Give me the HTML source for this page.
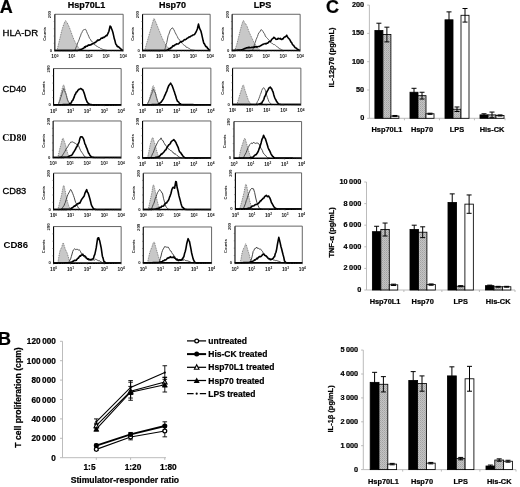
<!DOCTYPE html>
<html><head><meta charset="utf-8"><style>
html,body{margin:0;padding:0;background:#fff;}
svg{display:block;font-family:"Liberation Sans", sans-serif;filter:grayscale(1);}
</style></head><body>
<svg width="520" height="487" viewBox="0 0 520 487">
<defs>
<pattern id="stip" width="2" height="2" patternUnits="userSpaceOnUse">
<rect width="2" height="2" fill="#c4c4c4"/><rect width="1" height="1" fill="#a2a2a2"/><rect x="1" y="1" width="1" height="1" fill="#b0b0b0"/>
</pattern>
</defs>
<rect width="520" height="487" fill="#fff"/>
<text x="86.6" y="8" font-size="9" font-weight="bold" text-anchor="middle" fill="#000" stroke="#000" stroke-width="0.22">Hsp70L1</text>
<text x="172.5" y="8" font-size="9" font-weight="bold" text-anchor="middle" fill="#000" stroke="#000" stroke-width="0.22">Hsp70</text>
<text x="262.5" y="8" font-size="9" font-weight="bold" text-anchor="middle" fill="#000" stroke="#000" stroke-width="0.22">LPS</text>
<text x="-0.3" y="12.7" font-size="18" font-weight="bold" text-anchor="start" fill="#000" stroke="#000" stroke-width="0.22">A</text>
<text x="2.5" y="36.3" font-size="9.6" font-weight="normal" text-anchor="start" fill="#000" stroke="#000" stroke-width="0.3">HLA-DR</text>
<text x="2.5" y="92" font-size="9.3" font-weight="normal" text-anchor="start" fill="#000" stroke="#000" stroke-width="0.3">CD40</text>
<text x="2.2" y="141.3" font-size="9.9" font-family="Liberation Serif, serif" font-weight="bold">CD80</text>
<text x="2.5" y="193.5" font-size="9.3" font-weight="normal" text-anchor="start" fill="#000" stroke="#000" stroke-width="0.3">CD83</text>
<text x="3.5" y="247.8" font-size="9.6" font-weight="bold" text-anchor="start" fill="#000" stroke-width="0">CD86</text>
<path d="M56.98 50.56 C57.15 49.85 57.62 47.78 57.98 46.29 C58.33 44.79 58.74 43.13 59.12 41.59 C59.49 40.05 59.87 38.63 60.25 37.04 C60.63 35.45 60.97 33.72 61.39 32.06 C61.82 30.4 62.34 28.57 62.82 27.08 C63.29 25.58 63.79 24.16 64.24 23.09 C64.69 22.02 65.12 20.84 65.52 20.67 C65.92 20.51 66.25 21.5 66.66 22.1 C67.06 22.69 67.54 23.45 67.94 24.23 C68.34 25.01 68.7 25.89 69.08 26.79 C69.46 27.69 69.84 28.64 70.22 29.64 C70.59 30.63 70.95 31.65 71.35 32.77 C71.76 33.88 72.18 35.14 72.63 36.33 C73.09 37.51 73.51 38.7 74.06 39.88 C74.6 41.07 75.27 42.3 75.91 43.44 C76.55 44.58 77.19 45.77 77.9 46.72 C78.61 47.66 79.39 48.49 80.18 49.13 C80.96 49.78 82.19 50.32 82.6 50.56 Z" fill="#c8c8c8" stroke="#666" stroke-width="0.8" stroke-dasharray="1 0.8"/>
<path d="M74.77 50.56 L75.48 48.83 L76.19 46.94 L76.9 45.51 L77.62 43.01 L78.47 41.34 L79.32 39.04 L79.94 37.07 L80.56 35.86 L81.17 33.73 L81.79 32.94 L82.41 31.39 L83.02 30.23 L83.73 29.85 L84.45 29.54 L85.16 29.19 L85.87 29.65 L86.58 31.47 L87.29 33.22 L88 34.63 L88.72 36.22 L89.57 38.44 L90.42 39.15 L91.13 40.91 L91.85 41.29 L92.56 42.09 L93.27 42.78 L93.98 43.68 L94.69 44.9 L95.4 44.97 L96.12 45.86 L96.83 46.4 L97.54 46.62 L98.25 47.28 L98.96 47.3 L99.57 47.6 L100.18 48.01 L100.79 48.63 L101.4 48.73 L102.01 48.94 L102.62 49.33 L103.23 49.55 L103.84 49.65 L104.45 49.85 L105.06 49.99 L105.67 50.13 L106.28 50.27 L106.89 50.42 L107.5 50.56" fill="none" stroke="#5e5e5e" stroke-width="1"/>
<path d="M54.85 50.56 L55.46 50.56 L56.08 50.56 L56.69 50.56 L57.31 50.56 L57.92 50.56 L58.54 50.56 L59.15 50.56 L59.77 50.56 L60.38 50.56 L61 50.56 L61.62 50.56 L62.23 50.56 L62.85 50.56 L63.46 50.56 L64.08 50.56 L64.69 50.56 L65.31 50.56 L65.92 50.56 L66.54 50.56 L67.15 50.56 L67.77 50.56 L68.38 50.56 L69 50.56 L69.62 50.56 L70.23 50.56 L70.85 50.56 L71.46 50.56 L72.08 50.56 L72.69 50.56 L73.31 50.56 L73.92 50.56 L74.54 50.56 L75.15 50.56 L75.77 50.56 L76.38 50.56 L77 50.56 L77.62 50.56 L78.23 50.35 L78.84 50.15 L79.45 49.95 L80.05 49.83 L80.66 49.62 L81.27 49.22 L81.88 49.17 L82.6 48.62 L83.31 48.41 L84.02 47.79 L84.73 46.77 L85.34 47.28 L85.95 46.09 L86.56 46.18 L87.17 46.31 L87.78 45.4 L88.39 45.52 L89 44.79 L89.61 45.21 L90.22 45.05 L90.83 44.58 L91.44 44.65 L92.05 43.77 L92.66 43.92 L93.27 43.55 L93.88 43.12 L94.49 42.58 L95.1 42.6 L95.71 42.31 L96.32 41.38 L96.93 41.18 L97.54 40.11 L98.25 40.39 L98.96 39.9 L99.67 39.86 L100.38 39.24 L101.1 38.22 L101.81 38.11 L102.52 38.19 L103.23 37.25 L103.94 37.51 L104.65 36.96 L105.37 36.3 L106.08 35.63 L106.79 35.8 L107.5 34.5 L108.21 32.85 L108.92 31.23 L110.06 26.06 L110.77 26.62 L111.48 28.44 L112.2 30.33 L112.91 32.48 L113.62 35.61 L114.33 38.86 L115.04 41.06 L115.75 44.06 L116.36 44.71 L116.96 46 L117.57 46.79 L118.17 46.62 L118.88 47.18 L119.6 47.82 L120.31 48.41 L121.02 49.13 L121.73 49.64 L122.44 50.08 L123.15 50.56" fill="none" stroke="#000" stroke-width="1.6" stroke-linejoin="round"/>
<path d="M54.85 14.27 H123.15 V50.56" fill="none" stroke="#555" stroke-width="0.9"/>
<path d="M54.85 14.27 V50.56" fill="none" stroke="#000" stroke-width="1.1"/>
<path d="M54.35 50.56 H123.15" fill="none" stroke="#000" stroke-width="1.6"/>
<path d="M54.85 43.3 h-1.2 M54.85 36.04 h-1.2 M54.85 28.78 h-1.2 M54.85 21.53 h-1.2 M54.85 50.56 v1.4 M59.99 50.56 v0.9 M62.99 50.56 v0.9 M65.13 50.56 v0.9 M66.78 50.56 v0.9 M68.13 50.56 v0.9 M69.28 50.56 v0.9 M70.27 50.56 v0.9 M71.14 50.56 v0.9 M71.92 50.56 v1.4 M77.06 50.56 v0.9 M80.07 50.56 v0.9 M82.2 50.56 v0.9 M83.86 50.56 v0.9 M85.21 50.56 v0.9 M86.35 50.56 v0.9 M87.35 50.56 v0.9 M88.22 50.56 v0.9 M89 50.56 v1.4 M94.14 50.56 v0.9 M97.15 50.56 v0.9 M99.28 50.56 v0.9 M100.94 50.56 v0.9 M102.29 50.56 v0.9 M103.43 50.56 v0.9 M104.42 50.56 v0.9 M105.3 50.56 v0.9 M106.08 50.56 v1.4 M111.22 50.56 v0.9 M114.22 50.56 v0.9 M116.36 50.56 v0.9 M118.01 50.56 v0.9 M119.37 50.56 v0.9 M120.51 50.56 v0.9 M121.5 50.56 v0.9 M122.37 50.56 v0.9 M123.15 50.56 v1.4" stroke="#444" stroke-width="0.5" fill="none"/>
<text x="51.35" y="14.67" font-size="4.2" font-weight="bold" text-anchor="middle" fill="#111" transform="rotate(-90 51.35 14.67)">200</text>
<text x="52.05" y="51.76" font-size="4.2" font-weight="bold" text-anchor="end" fill="#111">0</text>
<text x="46.45" y="33.91" font-size="4.0" font-weight="bold" text-anchor="middle" fill="#111" transform="rotate(-90 46.45 33.91)">Counts</text>
<text x="54.85" y="58.36" font-size="4.8" text-anchor="middle" fill="#111" font-weight="bold">10<tspan dy="-1.8" font-size="3.2">0</tspan></text>
<text x="71.92" y="58.36" font-size="4.8" text-anchor="middle" fill="#111" font-weight="bold">10<tspan dy="-1.8" font-size="3.2">1</tspan></text>
<text x="89" y="58.36" font-size="4.8" text-anchor="middle" fill="#111" font-weight="bold">10<tspan dy="-1.8" font-size="3.2">2</tspan></text>
<text x="106.08" y="58.36" font-size="4.8" text-anchor="middle" fill="#111" font-weight="bold">10<tspan dy="-1.8" font-size="3.2">3</tspan></text>
<text x="123.15" y="58.36" font-size="4.8" text-anchor="middle" fill="#111" font-weight="bold">10<tspan dy="-1.8" font-size="3.2">4</tspan></text>
<path d="M144.69 50.56 C144.88 49.85 145.4 47.83 145.83 46.29 C146.26 44.75 146.78 42.97 147.25 41.31 C147.73 39.65 148.2 37.99 148.68 36.33 C149.15 34.67 149.63 33.01 150.1 31.35 C150.57 29.69 151.05 28.03 151.52 26.37 C152 24.71 152.54 22.69 152.95 21.38 C153.35 20.08 153.61 18.73 153.94 18.54 C154.27 18.35 154.58 19.53 154.94 20.25 C155.29 20.96 155.65 21.79 156.08 22.81 C156.5 23.83 157.03 25.18 157.5 26.37 C157.97 27.55 158.45 28.74 158.92 29.92 C159.4 31.11 159.82 32.18 160.35 33.48 C160.87 34.79 161.46 36.4 162.05 37.75 C162.65 39.1 163.24 40.34 163.9 41.59 C164.57 42.85 165.33 44.27 166.04 45.29 C166.75 46.31 167.46 47 168.17 47.71 C168.88 48.42 169.6 49.09 170.31 49.56 C171.02 50.04 172.09 50.39 172.44 50.56 Z" fill="#c8c8c8" stroke="#666" stroke-width="0.8" stroke-dasharray="1 0.8"/>
<path d="M164.62 50.56 L165.33 47.74 L166.04 44.84 L166.75 42.65 L167.46 39.04 L168.17 35.68 L168.88 34.17 L169.6 32.01 L170.31 29.94 L171.16 28.97 L172.02 27.96 L172.63 27.82 L173.25 29.14 L173.87 29.49 L174.58 31.25 L175.29 32.83 L176 34.08 L176.71 35.51 L177.42 36.64 L178.13 38.6 L178.85 38.97 L179.56 39.93 L180.27 41.02 L180.98 41.86 L181.69 42.93 L182.4 43.53 L183.12 44.37 L183.73 44.92 L184.34 45.28 L184.95 45.95 L185.55 46.02 L186.16 47.27 L186.77 47.42 L187.38 47.38 L187.99 47.81 L188.6 48.21 L189.21 48.54 L189.82 48.73 L190.43 49.39 L191.04 49.71 L191.65 49.85 L192.26 49.95 L192.87 50.05 L193.48 50.15 L194.09 50.25 L194.7 50.35 L195.31 50.46 L195.92 50.56" fill="none" stroke="#5e5e5e" stroke-width="1"/>
<path d="M142.56 50.56 L143.16 50.56 L143.76 50.56 L144.36 50.56 L144.97 50.56 L145.57 50.56 L146.17 50.56 L146.77 50.56 L147.37 50.56 L147.98 50.56 L148.58 50.56 L149.18 50.56 L149.78 50.56 L150.38 50.56 L150.99 50.56 L151.59 50.56 L152.19 50.56 L152.79 50.56 L153.39 50.56 L154 50.56 L154.6 50.56 L155.2 50.56 L155.8 50.56 L156.41 50.56 L157.01 50.56 L157.61 50.56 L158.21 50.56 L158.81 50.56 L159.42 50.56 L160.02 50.56 L160.62 50.56 L161.22 50.56 L161.82 50.56 L162.43 50.56 L163.03 50.56 L163.63 50.56 L164.23 50.56 L164.83 50.56 L165.44 50.56 L166.04 50.56 L166.65 50.25 L167.26 49.95 L167.87 49.63 L168.48 49.33 L169.09 48.8 L169.7 48.46 L170.31 48.3 L171.02 47.62 L171.73 47.65 L172.44 46.34 L173.15 45.62 L173.87 46.07 L174.58 45.27 L175.29 44.51 L176 44.6 L176.71 43.69 L177.42 43.9 L178.03 44.07 L178.64 43.62 L179.25 43.11 L179.86 42.31 L180.47 42.1 L181.08 41.55 L181.69 41.89 L182.4 41.2 L183.12 41.05 L183.83 40.12 L184.54 39.58 L185.25 39.69 L185.96 39.35 L186.67 38.67 L187.38 38.09 L187.99 37.9 L188.6 37.61 L189.21 36.84 L189.82 36.96 L190.43 36.57 L191.04 36.01 L191.65 35.81 L192.37 35.52 L193.08 34.92 L193.79 34.83 L194.5 34.55 L195.21 33.42 L195.92 32.3 L196.63 30.7 L197.35 29 L198.48 24.08 L199.48 28.19 L200.19 29.62 L200.9 31.01 L201.62 33.87 L202.33 37.17 L203.04 40.32 L203.75 43.11 L204.46 43.89 L205.17 45.27 L205.88 46.62 L206.6 46.54 L207.31 47.88 L208.02 48.74 L208.73 49.28 L209.44 49.85 L210.15 50.56" fill="none" stroke="#000" stroke-width="1.6" stroke-linejoin="round"/>
<path d="M142.56 14.27 H210.15 V50.56" fill="none" stroke="#555" stroke-width="0.9"/>
<path d="M142.56 14.27 V50.56" fill="none" stroke="#000" stroke-width="1.1"/>
<path d="M142.06 50.56 H210.15" fill="none" stroke="#000" stroke-width="1.6"/>
<path d="M142.56 43.3 h-1.2 M142.56 36.04 h-1.2 M142.56 28.78 h-1.2 M142.56 21.53 h-1.2 M142.56 50.56 v1.4 M147.64 50.56 v0.9 M150.62 50.56 v0.9 M152.73 50.56 v0.9 M154.37 50.56 v0.9 M155.71 50.56 v0.9 M156.84 50.56 v0.9 M157.82 50.56 v0.9 M158.68 50.56 v0.9 M159.46 50.56 v1.4 M164.54 50.56 v0.9 M167.52 50.56 v0.9 M169.63 50.56 v0.9 M171.27 50.56 v0.9 M172.61 50.56 v0.9 M173.74 50.56 v0.9 M174.72 50.56 v0.9 M175.58 50.56 v0.9 M176.36 50.56 v1.4 M181.44 50.56 v0.9 M184.42 50.56 v0.9 M186.53 50.56 v0.9 M188.17 50.56 v0.9 M189.51 50.56 v0.9 M190.64 50.56 v0.9 M191.62 50.56 v0.9 M192.48 50.56 v0.9 M193.25 50.56 v1.4 M198.34 50.56 v0.9 M201.32 50.56 v0.9 M203.43 50.56 v0.9 M205.07 50.56 v0.9 M206.4 50.56 v0.9 M207.54 50.56 v0.9 M208.52 50.56 v0.9 M209.38 50.56 v0.9 M210.15 50.56 v1.4" stroke="#444" stroke-width="0.5" fill="none"/>
<text x="139.06" y="14.67" font-size="4.2" font-weight="bold" text-anchor="middle" fill="#111" transform="rotate(-90 139.06 14.67)">200</text>
<text x="139.76" y="51.76" font-size="4.2" font-weight="bold" text-anchor="end" fill="#111">0</text>
<text x="134.16" y="33.91" font-size="4.0" font-weight="bold" text-anchor="middle" fill="#111" transform="rotate(-90 134.16 33.91)">Counts</text>
<text x="142.56" y="58.36" font-size="4.8" text-anchor="middle" fill="#111" font-weight="bold">10<tspan dy="-1.8" font-size="3.2">0</tspan></text>
<text x="159.46" y="58.36" font-size="4.8" text-anchor="middle" fill="#111" font-weight="bold">10<tspan dy="-1.8" font-size="3.2">1</tspan></text>
<text x="176.36" y="58.36" font-size="4.8" text-anchor="middle" fill="#111" font-weight="bold">10<tspan dy="-1.8" font-size="3.2">2</tspan></text>
<text x="193.25" y="58.36" font-size="4.8" text-anchor="middle" fill="#111" font-weight="bold">10<tspan dy="-1.8" font-size="3.2">3</tspan></text>
<text x="210.15" y="58.36" font-size="4.8" text-anchor="middle" fill="#111" font-weight="bold">10<tspan dy="-1.8" font-size="3.2">4</tspan></text>
<path d="M234.69 50.56 C235.05 49.49 236.12 46.64 236.83 44.15 C237.54 41.66 238.25 38.46 238.96 35.62 C239.67 32.77 240.38 29.57 241.1 27.08 C241.81 24.59 242.64 21.38 243.23 20.67 C243.82 19.96 244.06 21.98 244.65 22.81 C245.25 23.64 246.08 24.23 246.79 25.65 C247.5 27.08 248.09 29.33 248.92 31.35 C249.75 33.36 250.82 35.73 251.77 37.75 C252.72 39.77 253.67 41.78 254.62 43.44 C255.56 45.1 256.51 46.53 257.46 47.71 C258.41 48.9 259.83 50.08 260.31 50.56 Z" fill="#c8c8c8" stroke="#666" stroke-width="0.8" stroke-dasharray="1 0.8"/>
<path d="M252.48 50.56 L253.19 48.6 L253.9 46.27 L254.62 43.83 L255.33 42.31 L256.04 39.72 L256.75 38.05 L257.46 36.56 L258.17 34.33 L258.88 32.67 L259.6 32.27 L260.31 31.1 L261.02 29.59 L261.73 30.02 L262.44 30.52 L263.15 31.75 L263.87 33.08 L264.58 33.84 L265.29 35.94 L266 37.04 L266.71 37.67 L267.42 38.31 L268.13 39.4 L268.85 39.87 L269.56 40.64 L270.27 42.49 L270.88 42.58 L271.49 42.86 L272.1 43.67 L272.71 43.58 L273.32 44.42 L273.93 44.78 L274.54 44.58 L275.15 45.08 L275.76 45.59 L276.37 46.01 L276.98 46.82 L277.59 46.96 L278.2 47.59 L278.81 47.84 L279.42 48.77 L280.03 48.75 L280.64 49.16 L281.25 49.55 L281.86 49.87 L282.47 50.21 L283.08 50.56" fill="none" stroke="#5e5e5e" stroke-width="1"/>
<path d="M232.13 50.56 L232.74 50.51 L233.34 50.47 L233.95 50.42 L234.55 50.38 L235.15 50.34 L235.76 50.29 L236.36 50.25 L236.97 50.2 L237.57 50.16 L238.18 50.11 L238.78 50.07 L239.39 50.02 L239.99 49.98 L240.6 49.94 L241.2 49.89 L241.81 49.85 L242.52 49.65 L243.23 49.09 L243.94 49.05 L244.65 48.42 L245.26 48.35 L245.87 48.24 L246.48 47.69 L247.09 47.96 L247.7 47.61 L248.31 47.31 L248.92 48.02 L249.53 47.3 L250.14 47.56 L250.75 47.78 L251.36 47.53 L251.97 47.22 L252.58 47.37 L253.19 47.35 L253.8 47.52 L254.41 46.69 L255.02 47.11 L255.63 46.68 L256.24 46.63 L256.85 47.1 L257.46 46.72 L258.17 46.57 L258.88 46.57 L259.6 46.53 L260.31 45.8 L261.02 45.56 L261.73 45.01 L262.44 44.59 L263.15 44.37 L263.87 43.92 L264.58 43.83 L265.29 43.6 L266 43.93 L266.71 43.31 L267.42 43.14 L268.13 42.86 L268.85 41.75 L269.56 41.55 L270.27 41.44 L270.98 40.79 L271.69 39.49 L272.4 38.76 L273.12 38.4 L273.83 37.28 L274.54 37.94 L275.25 38.23 L275.96 39.36 L276.67 39.31 L277.38 39.25 L278.1 38.26 L278.81 38.7 L279.52 38.78 L280.23 38.35 L280.94 39.31 L281.65 39.55 L282.37 38.86 L283.08 38.96 L283.79 37.64 L284.5 37.02 L285.21 36.87 L285.92 36.34 L286.63 35.24 L287.35 36.61 L288.06 37.77 L288.77 38.52 L289.48 39.31 L290.19 40.4 L290.9 42.03 L291.62 42.44 L292.33 44.21 L293.04 45.04 L293.75 45.52 L294.46 46.81 L295.17 47.67 L295.88 48.08 L296.6 48.29 L297.31 49.39 L298.02 49.6 L298.73 49.85 L299.44 50.2 L300.15 50.56" fill="none" stroke="#000" stroke-width="1.6" stroke-linejoin="round"/>
<path d="M232.13 14.27 H300.15 V50.56" fill="none" stroke="#555" stroke-width="0.9"/>
<path d="M232.13 14.27 V50.56" fill="none" stroke="#000" stroke-width="1.1"/>
<path d="M231.63 50.56 H300.15" fill="none" stroke="#000" stroke-width="1.6"/>
<path d="M232.13 43.3 h-1.2 M232.13 36.04 h-1.2 M232.13 28.78 h-1.2 M232.13 21.53 h-1.2 M232.13 50.56 v1.4 M237.25 50.56 v0.9 M240.24 50.56 v0.9 M242.37 50.56 v0.9 M244.02 50.56 v0.9 M245.36 50.56 v0.9 M246.5 50.56 v0.9 M247.49 50.56 v0.9 M248.36 50.56 v0.9 M249.14 50.56 v1.4 M254.26 50.56 v0.9 M257.25 50.56 v0.9 M259.38 50.56 v0.9 M261.02 50.56 v0.9 M262.37 50.56 v0.9 M263.51 50.56 v0.9 M264.49 50.56 v0.9 M265.36 50.56 v0.9 M266.14 50.56 v1.4 M271.26 50.56 v0.9 M274.26 50.56 v0.9 M276.38 50.56 v0.9 M278.03 50.56 v0.9 M279.38 50.56 v0.9 M280.51 50.56 v0.9 M281.5 50.56 v0.9 M282.37 50.56 v0.9 M283.15 50.56 v1.4 M288.27 50.56 v0.9 M291.26 50.56 v0.9 M293.39 50.56 v0.9 M295.03 50.56 v0.9 M296.38 50.56 v0.9 M297.52 50.56 v0.9 M298.51 50.56 v0.9 M299.38 50.56 v0.9 M300.15 50.56 v1.4" stroke="#444" stroke-width="0.5" fill="none"/>
<text x="228.63" y="14.67" font-size="4.2" font-weight="bold" text-anchor="middle" fill="#111" transform="rotate(-90 228.63 14.67)">200</text>
<text x="229.33" y="51.76" font-size="4.2" font-weight="bold" text-anchor="end" fill="#111">0</text>
<text x="223.73" y="33.91" font-size="4.0" font-weight="bold" text-anchor="middle" fill="#111" transform="rotate(-90 223.73 33.91)">Counts</text>
<text x="232.13" y="58.36" font-size="4.8" text-anchor="middle" fill="#111" font-weight="bold">10<tspan dy="-1.8" font-size="3.2">0</tspan></text>
<text x="249.14" y="58.36" font-size="4.8" text-anchor="middle" fill="#111" font-weight="bold">10<tspan dy="-1.8" font-size="3.2">1</tspan></text>
<text x="266.14" y="58.36" font-size="4.8" text-anchor="middle" fill="#111" font-weight="bold">10<tspan dy="-1.8" font-size="3.2">2</tspan></text>
<text x="283.15" y="58.36" font-size="4.8" text-anchor="middle" fill="#111" font-weight="bold">10<tspan dy="-1.8" font-size="3.2">3</tspan></text>
<text x="300.15" y="58.36" font-size="4.8" text-anchor="middle" fill="#111" font-weight="bold">10<tspan dy="-1.8" font-size="3.2">4</tspan></text>
<path d="M58.54 104.85 C58.78 103.66 59.49 99.87 59.96 97.73 C60.44 95.6 60.79 94.17 61.38 92.04 C61.98 89.9 62.93 85.4 63.52 84.92 C64.11 84.45 64.47 87.53 64.94 89.19 C65.42 90.85 65.89 93.11 66.37 94.88 C66.84 96.66 67.31 98.44 67.79 99.87 C68.26 101.29 68.74 102.59 69.21 103.42 C69.69 104.25 70.4 104.61 70.63 104.85 Z" fill="#c8c8c8" stroke="#666" stroke-width="0.8" stroke-dasharray="1 0.8"/>
<path d="M57.83 104.85 L58.54 103.65 L59.25 101.63 L59.96 100.34 L60.67 97.74 L61.38 96.11 L62.1 93.23 L62.95 90.6 L63.8 88.4 L64.42 90.55 L65.04 92.12 L65.65 93.22 L66.37 95.48 L67.08 98.62 L67.79 100.65 L68.5 101.96 L69.21 102.69 L69.92 104.13 L70.63 104.31 L71.35 104.49 L72.06 104.67 L72.77 104.85" fill="none" stroke="#5e5e5e" stroke-width="1"/>
<path d="M53.56 104.85 L54.18 104.83 L54.8 104.82 L55.43 104.81 L56.05 104.8 L56.67 104.79 L57.29 104.77 L57.92 104.76 L58.54 104.75 L59.16 104.74 L59.78 104.73 L60.41 104.72 L61.03 104.7 L61.65 104.69 L62.27 104.68 L62.9 104.67 L63.52 104.66 L64.14 104.64 L64.76 104.63 L65.39 104.62 L66.01 104.61 L66.63 104.6 L67.25 104.59 L67.88 104.57 L68.5 104.56 L69.21 104.1 L69.92 103.44 L70.63 103.29 L71.35 102.65 L72.06 100.82 L72.77 100.35 L73.48 98.59 L74.19 97.11 L74.9 94.66 L75.62 93.85 L76.33 92.04 L77.04 91.96 L77.75 90.56 L78.46 89.73 L79.17 89.25 L79.88 88.95 L80.6 88.58 L81.31 88.78 L82.02 89.58 L82.73 89.62 L83.44 91.25 L84.15 93.09 L84.87 95.46 L85.58 98.11 L86.29 100.01 L87 101.8 L87.71 102.91 L88.42 103.31 L89.13 104.13 L89.85 104.28 L90.56 104.42 L91.27 104.56 L91.98 104.7 L92.69 104.85 L93.3 104.85 L93.9 104.85 L94.51 104.85 L95.11 104.85 L95.72 104.85 L96.33 104.85 L96.93 104.85 L97.54 104.85 L98.14 104.85 L98.75 104.85 L99.35 104.85 L99.96 104.85 L100.56 104.85 L101.17 104.85 L101.78 104.85 L102.38 104.85 L102.99 104.85 L103.59 104.85 L104.2 104.85 L104.8 104.85 L105.41 104.85 L106.01 104.85 L106.62 104.85 L107.23 104.85 L107.83 104.85 L108.44 104.85 L109.04 104.85 L109.65 104.85 L110.25 104.85 L110.86 104.85 L111.46 104.85 L112.07 104.85 L112.68 104.85 L113.28 104.85 L113.89 104.85 L114.49 104.85 L115.1 104.85 L115.7 104.85 L116.31 104.85 L116.91 104.85 L117.52 104.85 L118.13 104.85 L118.73 104.85 L119.34 104.85 L119.94 104.85 L120.55 104.85 L121.15 104.85" fill="none" stroke="#000" stroke-width="1.6" stroke-linejoin="round"/>
<path d="M53.56 68.56 H121.15 V104.85" fill="none" stroke="#555" stroke-width="0.9"/>
<path d="M53.56 68.56 V104.85" fill="none" stroke="#000" stroke-width="1.1"/>
<path d="M53.06 104.85 H121.15" fill="none" stroke="#000" stroke-width="1.6"/>
<path d="M53.56 97.59 h-1.2 M53.56 90.33 h-1.2 M53.56 83.07 h-1.2 M53.56 75.82 h-1.2 M53.56 104.85 v1.4 M58.64 104.85 v0.9 M61.62 104.85 v0.9 M63.73 104.85 v0.9 M65.37 104.85 v0.9 M66.71 104.85 v0.9 M67.84 104.85 v0.9 M68.82 104.85 v0.9 M69.68 104.85 v0.9 M70.46 104.85 v1.4 M75.54 104.85 v0.9 M78.52 104.85 v0.9 M80.63 104.85 v0.9 M82.27 104.85 v0.9 M83.61 104.85 v0.9 M84.74 104.85 v0.9 M85.72 104.85 v0.9 M86.58 104.85 v0.9 M87.36 104.85 v1.4 M92.44 104.85 v0.9 M95.42 104.85 v0.9 M97.53 104.85 v0.9 M99.17 104.85 v0.9 M100.51 104.85 v0.9 M101.64 104.85 v0.9 M102.62 104.85 v0.9 M103.48 104.85 v0.9 M104.25 104.85 v1.4 M109.34 104.85 v0.9 M112.32 104.85 v0.9 M114.43 104.85 v0.9 M116.07 104.85 v0.9 M117.4 104.85 v0.9 M118.54 104.85 v0.9 M119.52 104.85 v0.9 M120.38 104.85 v0.9 M121.15 104.85 v1.4" stroke="#444" stroke-width="0.5" fill="none"/>
<text x="50.06" y="68.96" font-size="4.2" font-weight="bold" text-anchor="middle" fill="#111" transform="rotate(-90 50.06 68.96)">200</text>
<text x="50.76" y="106.05" font-size="4.2" font-weight="bold" text-anchor="end" fill="#111">0</text>
<text x="45.16" y="88.2" font-size="4.0" font-weight="bold" text-anchor="middle" fill="#111" transform="rotate(-90 45.16 88.2)">Counts</text>
<text x="53.56" y="112.65" font-size="4.8" text-anchor="middle" fill="#111" font-weight="bold">10<tspan dy="-1.8" font-size="3.2">0</tspan></text>
<text x="70.46" y="112.65" font-size="4.8" text-anchor="middle" fill="#111" font-weight="bold">10<tspan dy="-1.8" font-size="3.2">1</tspan></text>
<text x="87.36" y="112.65" font-size="4.8" text-anchor="middle" fill="#111" font-weight="bold">10<tspan dy="-1.8" font-size="3.2">2</tspan></text>
<text x="104.25" y="112.65" font-size="4.8" text-anchor="middle" fill="#111" font-weight="bold">10<tspan dy="-1.8" font-size="3.2">3</tspan></text>
<text x="121.15" y="112.65" font-size="4.8" text-anchor="middle" fill="#111" font-weight="bold">10<tspan dy="-1.8" font-size="3.2">4</tspan></text>
<path d="M147.54 104.85 C147.89 103.66 148.96 100.22 149.67 97.73 C150.38 95.24 151.21 91.92 151.81 89.9 C152.4 87.89 152.76 85.75 153.23 85.63 C153.71 85.52 154.18 87.65 154.65 89.19 C155.13 90.73 155.6 92.99 156.08 94.88 C156.55 96.78 157.03 98.92 157.5 100.58 C157.97 102.24 158.69 104.13 158.92 104.85 Z" fill="#c8c8c8" stroke="#666" stroke-width="0.8" stroke-dasharray="1 0.8"/>
<path d="M146.83 104.85 L147.54 103.6 L148.25 102.09 L148.96 100.96 L149.67 99.38 L150.38 97.48 L151.1 95.11 L151.81 93.69 L152.52 91.38 L153.23 88.88 L153.94 90.59 L154.65 92.47 L155.37 93.07 L156.08 96.39 L156.79 98.61 L157.5 101.28 L158.21 102.48 L158.92 103 L159.63 103.96 L160.35 104.85" fill="none" stroke="#5e5e5e" stroke-width="1"/>
<path d="M142.56 104.85 L143.18 104.83 L143.8 104.82 L144.43 104.81 L145.05 104.8 L145.67 104.79 L146.29 104.77 L146.92 104.76 L147.54 104.75 L148.16 104.74 L148.78 104.73 L149.41 104.72 L150.03 104.7 L150.65 104.69 L151.27 104.68 L151.9 104.67 L152.52 104.66 L153.14 104.64 L153.76 104.63 L154.39 104.62 L155.01 104.61 L155.63 104.6 L156.25 104.59 L156.88 104.57 L157.5 104.56 L158.21 104.1 L158.92 103.72 L159.63 103.47 L160.35 102.59 L161.06 102.19 L161.77 101.16 L162.48 100.19 L163.19 99.05 L163.9 97.56 L164.62 95.82 L165.33 94.48 L166.04 92.51 L166.75 91.35 L167.46 88.92 L168.17 87.16 L168.88 85.41 L169.6 84.59 L170.59 83.2 L171.3 84.4 L172.02 85.39 L172.63 87.01 L173.25 88.73 L173.87 90.57 L174.48 92.14 L175.1 94.35 L175.72 96.05 L176.57 98.95 L177.42 101.1 L178.13 101.58 L178.85 102.25 L179.56 103.67 L180.27 103.73 L180.98 104.18 L181.69 104.56 L182.3 104.57 L182.91 104.57 L183.52 104.58 L184.12 104.59 L184.73 104.59 L185.34 104.6 L185.95 104.6 L186.55 104.61 L187.16 104.61 L187.77 104.62 L188.38 104.63 L188.99 104.63 L189.59 104.64 L190.2 104.64 L190.81 104.65 L191.42 104.66 L192.02 104.66 L192.63 104.67 L193.24 104.67 L193.85 104.68 L194.46 104.69 L195.06 104.69 L195.67 104.7 L196.28 104.7 L196.89 104.71 L197.49 104.72 L198.1 104.72 L198.71 104.73 L199.32 104.73 L199.93 104.74 L200.53 104.75 L201.14 104.75 L201.75 104.76 L202.36 104.76 L202.96 104.77 L203.57 104.77 L204.18 104.78 L204.79 104.79 L205.4 104.79 L206 104.8 L206.61 104.8 L207.22 104.81 L207.83 104.82 L208.43 104.82 L209.04 104.83 L209.65 104.83 L210.26 104.84 L210.87 104.85" fill="none" stroke="#000" stroke-width="1.6" stroke-linejoin="round"/>
<path d="M142.56 68.13 H210.87 V104.85" fill="none" stroke="#555" stroke-width="0.9"/>
<path d="M142.56 68.13 V104.85" fill="none" stroke="#000" stroke-width="1.1"/>
<path d="M142.06 104.85 H210.87" fill="none" stroke="#000" stroke-width="1.6"/>
<path d="M142.56 97.5 h-1.2 M142.56 90.16 h-1.2 M142.56 82.82 h-1.2 M142.56 75.47 h-1.2 M142.56 104.85 v1.4 M147.7 104.85 v0.9 M150.71 104.85 v0.9 M152.84 104.85 v0.9 M154.49 104.85 v0.9 M155.85 104.85 v0.9 M156.99 104.85 v0.9 M157.98 104.85 v0.9 M158.85 104.85 v0.9 M159.63 104.85 v1.4 M164.78 104.85 v0.9 M167.78 104.85 v0.9 M169.92 104.85 v0.9 M171.57 104.85 v0.9 M172.92 104.85 v0.9 M174.07 104.85 v0.9 M175.06 104.85 v0.9 M175.93 104.85 v0.9 M176.71 104.85 v1.4 M181.85 104.85 v0.9 M184.86 104.85 v0.9 M186.99 104.85 v0.9 M188.65 104.85 v0.9 M190 104.85 v0.9 M191.14 104.85 v0.9 M192.13 104.85 v0.9 M193.01 104.85 v0.9 M193.79 104.85 v1.4 M198.93 104.85 v0.9 M201.94 104.85 v0.9 M204.07 104.85 v0.9 M205.72 104.85 v0.9 M207.08 104.85 v0.9 M208.22 104.85 v0.9 M209.21 104.85 v0.9 M210.08 104.85 v0.9 M210.87 104.85 v1.4" stroke="#444" stroke-width="0.5" fill="none"/>
<text x="139.06" y="68.53" font-size="4.2" font-weight="bold" text-anchor="middle" fill="#111" transform="rotate(-90 139.06 68.53)">200</text>
<text x="139.76" y="106.05" font-size="4.2" font-weight="bold" text-anchor="end" fill="#111">0</text>
<text x="134.16" y="87.99" font-size="4.0" font-weight="bold" text-anchor="middle" fill="#111" transform="rotate(-90 134.16 87.99)">Counts</text>
<text x="142.56" y="112.65" font-size="4.8" text-anchor="middle" fill="#111" font-weight="bold">10<tspan dy="-1.8" font-size="3.2">0</tspan></text>
<text x="159.63" y="112.65" font-size="4.8" text-anchor="middle" fill="#111" font-weight="bold">10<tspan dy="-1.8" font-size="3.2">1</tspan></text>
<text x="176.71" y="112.65" font-size="4.8" text-anchor="middle" fill="#111" font-weight="bold">10<tspan dy="-1.8" font-size="3.2">2</tspan></text>
<text x="193.79" y="112.65" font-size="4.8" text-anchor="middle" fill="#111" font-weight="bold">10<tspan dy="-1.8" font-size="3.2">3</tspan></text>
<text x="210.87" y="112.65" font-size="4.8" text-anchor="middle" fill="#111" font-weight="bold">10<tspan dy="-1.8" font-size="3.2">4</tspan></text>
<path d="M236.83 104.56 C237.18 103.42 238.25 100.06 238.96 97.73 C239.67 95.41 240.38 92.75 241.1 90.62 C241.81 88.48 242.64 85.16 243.23 84.92 C243.82 84.69 244.06 87.41 244.65 89.19 C245.25 90.97 246.08 93.58 246.79 95.6 C247.5 97.61 248.09 99.79 248.92 101.29 C249.75 102.78 251.29 104.02 251.77 104.56 Z" fill="#c8c8c8" stroke="#666" stroke-width="0.8" stroke-dasharray="1 0.8"/>
<path d="M256.04 104.56 L256.75 103.17 L257.46 101.46 L258.17 100.46 L258.88 98.65 L259.6 96.78 L260.31 94.59 L261.02 92.99 L261.73 90.59 L262.44 88.96 L263.15 88.07 L263.87 87.67 L264.58 88.73 L265.29 90.14 L266 92.91 L266.71 95.33 L267.42 97.58 L268.13 99.42 L268.85 101.54 L269.56 102.36 L270.27 103.28 L270.98 104.13 L271.69 104.28 L272.4 104.42 L273.12 104.56" fill="none" stroke="#5e5e5e" stroke-width="1"/>
<path d="M232.56 104.56 L233.17 104.56 L233.77 104.56 L234.38 104.56 L234.99 104.56 L235.59 104.56 L236.2 104.56 L236.81 104.56 L237.42 104.56 L238.02 104.56 L238.63 104.56 L239.24 104.56 L239.85 104.56 L240.45 104.56 L241.06 104.56 L241.67 104.56 L242.28 104.56 L242.88 104.56 L243.49 104.56 L244.1 104.56 L244.71 104.56 L245.31 104.56 L245.92 104.56 L246.53 104.56 L247.14 104.56 L247.74 104.56 L248.35 104.56 L248.96 104.56 L249.57 104.56 L250.17 104.56 L250.78 104.56 L251.39 104.56 L251.99 104.56 L252.6 104.56 L253.21 104.56 L253.82 104.56 L254.42 104.56 L255.03 104.56 L255.64 104.56 L256.25 104.56 L256.85 104.56 L257.46 104.56 L258.07 104.36 L258.68 104.15 L259.29 103.95 L259.9 103.86 L260.51 103.5 L261.12 103.26 L261.73 103.39 L262.44 101.46 L263.15 100.73 L263.87 99.31 L264.58 96.75 L265.29 95.73 L266 93.89 L266.71 92.18 L267.42 90.87 L268.13 89.54 L268.85 88.08 L269.56 87.8 L270.27 87.06 L270.98 88.14 L271.69 88.82 L272.4 90.62 L273.12 92.13 L273.83 94.96 L274.54 97.22 L275.25 98.89 L275.96 100.04 L276.67 101.56 L277.38 102.46 L278.1 103.36 L278.81 104.13 L279.52 104.24 L280.23 104.35 L280.94 104.45 L281.65 104.56 L282.25 104.56 L282.85 104.56 L283.45 104.56 L284.06 104.56 L284.66 104.56 L285.26 104.56 L285.86 104.56 L286.46 104.56 L287.06 104.56 L287.66 104.56 L288.26 104.56 L288.86 104.56 L289.46 104.56 L290.06 104.56 L290.66 104.56 L291.26 104.56 L291.86 104.56 L292.46 104.56 L293.06 104.56 L293.66 104.56 L294.26 104.56 L294.86 104.56 L295.46 104.56 L296.06 104.56 L296.66 104.56 L297.26 104.56 L297.86 104.56 L298.46 104.56 L299.06 104.56 L299.66 104.56 L300.27 104.56 L300.87 104.56" fill="none" stroke="#000" stroke-width="1.6" stroke-linejoin="round"/>
<path d="M232.56 68.13 H300.87 V104.56" fill="none" stroke="#555" stroke-width="0.9"/>
<path d="M232.56 68.13 V104.56" fill="none" stroke="#000" stroke-width="1.1"/>
<path d="M232.06 104.56 H300.87" fill="none" stroke="#000" stroke-width="1.6"/>
<path d="M232.56 97.28 h-1.2 M232.56 89.99 h-1.2 M232.56 82.7 h-1.2 M232.56 75.42 h-1.2 M232.56 104.56 v1.4 M237.7 104.56 v0.9 M240.71 104.56 v0.9 M242.84 104.56 v0.9 M244.49 104.56 v0.9 M245.85 104.56 v0.9 M246.99 104.56 v0.9 M247.98 104.56 v0.9 M248.85 104.56 v0.9 M249.63 104.56 v1.4 M254.78 104.56 v0.9 M257.78 104.56 v0.9 M259.92 104.56 v0.9 M261.57 104.56 v0.9 M262.92 104.56 v0.9 M264.07 104.56 v0.9 M265.06 104.56 v0.9 M265.93 104.56 v0.9 M266.71 104.56 v1.4 M271.85 104.56 v0.9 M274.86 104.56 v0.9 M276.99 104.56 v0.9 M278.65 104.56 v0.9 M280 104.56 v0.9 M281.14 104.56 v0.9 M282.13 104.56 v0.9 M283.01 104.56 v0.9 M283.79 104.56 v1.4 M288.93 104.56 v0.9 M291.94 104.56 v0.9 M294.07 104.56 v0.9 M295.72 104.56 v0.9 M297.08 104.56 v0.9 M298.22 104.56 v0.9 M299.21 104.56 v0.9 M300.08 104.56 v0.9 M300.87 104.56 v1.4" stroke="#444" stroke-width="0.5" fill="none"/>
<text x="229.06" y="68.53" font-size="4.2" font-weight="bold" text-anchor="middle" fill="#111" transform="rotate(-90 229.06 68.53)">200</text>
<text x="229.76" y="105.76" font-size="4.2" font-weight="bold" text-anchor="end" fill="#111">0</text>
<text x="224.16" y="87.85" font-size="4.0" font-weight="bold" text-anchor="middle" fill="#111" transform="rotate(-90 224.16 87.85)">Counts</text>
<text x="232.56" y="112.36" font-size="4.8" text-anchor="middle" fill="#111" font-weight="bold">10<tspan dy="-1.8" font-size="3.2">0</tspan></text>
<text x="249.63" y="112.36" font-size="4.8" text-anchor="middle" fill="#111" font-weight="bold">10<tspan dy="-1.8" font-size="3.2">1</tspan></text>
<text x="266.71" y="112.36" font-size="4.8" text-anchor="middle" fill="#111" font-weight="bold">10<tspan dy="-1.8" font-size="3.2">2</tspan></text>
<text x="283.79" y="112.36" font-size="4.8" text-anchor="middle" fill="#111" font-weight="bold">10<tspan dy="-1.8" font-size="3.2">3</tspan></text>
<text x="300.87" y="112.36" font-size="4.8" text-anchor="middle" fill="#111" font-weight="bold">10<tspan dy="-1.8" font-size="3.2">4</tspan></text>
<path d="M57.83 157.56 C58.06 156.49 58.78 153.17 59.25 151.15 C59.72 149.14 60.08 147.6 60.67 145.46 C61.27 143.33 62.21 139.06 62.81 138.35 C63.4 137.63 63.76 140.01 64.23 141.19 C64.71 142.38 65.18 143.8 65.65 145.46 C66.13 147.12 66.6 149.49 67.08 151.15 C67.55 152.81 68.03 154.36 68.5 155.42 C68.97 156.49 69.69 157.2 69.92 157.56 Z" fill="#c8c8c8" stroke="#666" stroke-width="0.8" stroke-dasharray="1 0.8"/>
<path d="M60.67 157.56 L61.38 156.48 L62.1 155.87 L62.81 154.77 L63.52 153.65 L64.23 152.47 L64.94 151.33 L65.65 149.96 L66.37 148.29 L67.08 147.89 L67.79 146.66 L68.5 145.23 L69.21 144.07 L69.92 143.49 L70.63 142.18 L71.35 142.14 L72.06 141.89 L72.77 141.95 L73.48 142.38 L74.19 143.08 L74.9 142.79 L75.62 143.57 L76.33 144.28 L77.04 144.27 L77.75 144.63 L78.46 145.8 L79.17 147.07 L79.88 148.93 L80.6 150.56 L81.31 151.77 L82.02 152.39 L82.73 153.65 L83.44 154.73 L84.15 156.03 L84.87 156.85 L85.58 157.08 L86.29 157.32 L87 157.56" fill="none" stroke="#333" stroke-width="0.9"/>
<path d="M53.13 157.56 L53.74 157.55 L54.34 157.53 L54.95 157.52 L55.56 157.51 L56.16 157.5 L56.77 157.48 L57.38 157.47 L57.98 157.46 L58.59 157.45 L59.19 157.43 L59.8 157.42 L60.41 157.41 L61.01 157.4 L61.62 157.38 L62.23 157.37 L62.83 157.36 L63.44 157.35 L64.05 157.33 L64.65 157.32 L65.26 157.31 L65.86 157.3 L66.47 157.29 L67.08 157.27 L67.69 157.01 L68.3 156.69 L68.91 156.51 L69.52 155.98 L70.13 155.69 L70.74 155.53 L71.35 155.56 L72.06 154.69 L72.77 153.72 L73.48 152.35 L74.19 151.41 L74.9 150.17 L75.62 148.98 L76.33 147.18 L77.04 146.61 L77.75 144.42 L78.46 143.5 L79.17 141.67 L79.88 138.53 L80.6 136.88 L81.31 136.92 L82.02 136.73 L82.73 137.58 L83.44 138.8 L84.15 140.87 L84.87 143.82 L85.58 144.91 L86.29 147.21 L87 148.63 L87.71 150.71 L88.42 152.84 L89.13 153.6 L89.85 155.26 L90.56 155.9 L91.27 156.85 L91.98 157.02 L92.69 157.2 L93.4 157.38 L94.12 157.56 L94.72 157.56 L95.32 157.56 L95.92 157.56 L96.52 157.56 L97.12 157.56 L97.72 157.56 L98.32 157.56 L98.92 157.56 L99.52 157.56 L100.12 157.56 L100.72 157.56 L101.33 157.56 L101.93 157.56 L102.53 157.56 L103.13 157.56 L103.73 157.56 L104.33 157.56 L104.93 157.56 L105.53 157.56 L106.13 157.56 L106.73 157.56 L107.33 157.56 L107.94 157.56 L108.54 157.56 L109.14 157.56 L109.74 157.56 L110.34 157.56 L110.94 157.56 L111.54 157.56 L112.14 157.56 L112.74 157.56 L113.34 157.56 L113.94 157.56 L114.54 157.56 L115.15 157.56 L115.75 157.56 L116.35 157.56 L116.95 157.56 L117.55 157.56 L118.15 157.56 L118.75 157.56 L119.35 157.56 L119.95 157.56 L120.55 157.56 L121.15 157.56" fill="none" stroke="#000" stroke-width="1.6" stroke-linejoin="round"/>
<path d="M53.13 120.98 H121.15 V157.56" fill="none" stroke="#555" stroke-width="0.9"/>
<path d="M53.13 120.98 V157.56" fill="none" stroke="#000" stroke-width="1.1"/>
<path d="M52.63 157.56 H121.15" fill="none" stroke="#000" stroke-width="1.6"/>
<path d="M53.13 150.24 h-1.2 M53.13 142.93 h-1.2 M53.13 135.61 h-1.2 M53.13 128.3 h-1.2 M53.13 157.56 v1.4 M58.25 157.56 v0.9 M61.24 157.56 v0.9 M63.37 157.56 v0.9 M65.02 157.56 v0.9 M66.36 157.56 v0.9 M67.5 157.56 v0.9 M68.49 157.56 v0.9 M69.36 157.56 v0.9 M70.14 157.56 v1.4 M75.26 157.56 v0.9 M78.25 157.56 v0.9 M80.38 157.56 v0.9 M82.02 157.56 v0.9 M83.37 157.56 v0.9 M84.51 157.56 v0.9 M85.49 157.56 v0.9 M86.36 157.56 v0.9 M87.14 157.56 v1.4 M92.26 157.56 v0.9 M95.26 157.56 v0.9 M97.38 157.56 v0.9 M99.03 157.56 v0.9 M100.38 157.56 v0.9 M101.51 157.56 v0.9 M102.5 157.56 v0.9 M103.37 157.56 v0.9 M104.15 157.56 v1.4 M109.27 157.56 v0.9 M112.26 157.56 v0.9 M114.39 157.56 v0.9 M116.03 157.56 v0.9 M117.38 157.56 v0.9 M118.52 157.56 v0.9 M119.51 157.56 v0.9 M120.38 157.56 v0.9 M121.15 157.56 v1.4" stroke="#444" stroke-width="0.5" fill="none"/>
<text x="49.63" y="121.38" font-size="4.2" font-weight="bold" text-anchor="middle" fill="#111" transform="rotate(-90 49.63 121.38)">200</text>
<text x="50.33" y="158.76" font-size="4.2" font-weight="bold" text-anchor="end" fill="#111">0</text>
<text x="44.73" y="140.77" font-size="4.0" font-weight="bold" text-anchor="middle" fill="#111" transform="rotate(-90 44.73 140.77)">Counts</text>
<text x="53.13" y="165.36" font-size="4.8" text-anchor="middle" fill="#111" font-weight="bold">10<tspan dy="-1.8" font-size="3.2">0</tspan></text>
<text x="70.14" y="165.36" font-size="4.8" text-anchor="middle" fill="#111" font-weight="bold">10<tspan dy="-1.8" font-size="3.2">1</tspan></text>
<text x="87.14" y="165.36" font-size="4.8" text-anchor="middle" fill="#111" font-weight="bold">10<tspan dy="-1.8" font-size="3.2">2</tspan></text>
<text x="104.15" y="165.36" font-size="4.8" text-anchor="middle" fill="#111" font-weight="bold">10<tspan dy="-1.8" font-size="3.2">3</tspan></text>
<text x="121.15" y="165.36" font-size="4.8" text-anchor="middle" fill="#111" font-weight="bold">10<tspan dy="-1.8" font-size="3.2">4</tspan></text>
<path d="M147.54 157.98 C147.78 156.85 148.49 153.48 148.96 151.15 C149.44 148.83 149.79 146.29 150.38 144.04 C150.98 141.79 151.93 138.11 152.52 137.63 C153.11 137.16 153.47 139.89 153.94 141.19 C154.42 142.5 154.89 143.8 155.37 145.46 C155.84 147.12 156.31 149.49 156.79 151.15 C157.26 152.81 157.74 154.28 158.21 155.42 C158.69 156.56 159.4 157.56 159.63 157.98 Z" fill="#c8c8c8" stroke="#666" stroke-width="0.8" stroke-dasharray="1 0.8"/>
<path d="M150.38 157.98 L151.1 156.83 L151.81 155.51 L152.52 153.73 L153.23 152.74 L153.94 150.67 L154.65 148.54 L155.37 146.86 L156.08 145.69 L156.79 143.99 L157.5 142.65 L158.21 141.31 L158.92 140.32 L159.63 139.59 L160.35 139.4 L161.06 137.85 L161.77 139.55 L162.48 140.58 L163.19 140.81 L163.9 142.8 L164.62 143.78 L165.33 145.15 L166.04 145.49 L166.75 146.52 L167.46 147.49 L168.17 148.81 L168.88 149.11 L169.6 149.59 L170.31 150.37 L171.02 150.75 L171.73 151.06 L172.44 151.64 L173.15 152.91 L173.87 152.9 L174.58 154.08 L175.29 153.93 L176 154.48 L176.71 155.26 L177.42 155.55 L178.13 156.24 L178.85 157.02 L179.56 157.24 L180.27 157.42 L180.98 157.7 L181.69 157.98" fill="none" stroke="#333" stroke-width="0.9"/>
<path d="M142.56 157.98 L143.16 157.97 L143.77 157.96 L144.37 157.94 L144.98 157.93 L145.58 157.91 L146.19 157.9 L146.79 157.88 L147.4 157.87 L148 157.86 L148.61 157.84 L149.21 157.83 L149.82 157.81 L150.42 157.8 L151.03 157.79 L151.63 157.77 L152.23 157.76 L152.84 157.74 L153.44 157.73 L154.05 157.71 L154.65 157.7 L155.26 157.54 L155.87 157.37 L156.48 157.21 L157.09 157.16 L157.7 156.94 L158.31 156.92 L158.92 156.79 L159.63 155.94 L160.35 155.47 L161.06 154.1 L161.77 154.2 L162.48 153.23 L163.19 152.85 L163.9 152.02 L164.62 150.92 L165.33 149.95 L166.04 149.73 L166.75 147.66 L167.46 146.85 L168.17 145.76 L168.88 144.76 L169.6 144.3 L170.31 143.61 L171.02 141.88 L171.73 141.36 L172.44 140.5 L173.15 140.31 L173.87 139.65 L174.58 140.47 L175.29 141.53 L176 142.65 L176.71 144.49 L177.42 145.81 L178.13 147.29 L178.85 149.82 L179.56 151.7 L180.27 152.28 L180.98 153.13 L181.69 154.37 L182.4 155.15 L183.12 156.23 L183.83 157 L184.54 157.42 L185.25 157.7 L185.96 157.98 L186.57 157.98 L187.18 157.98 L187.78 157.98 L188.39 157.98 L189 157.98 L189.61 157.98 L190.21 157.98 L190.82 157.98 L191.43 157.98 L192.04 157.98 L192.64 157.98 L193.25 157.98 L193.86 157.98 L194.47 157.98 L195.07 157.98 L195.68 157.98 L196.29 157.98 L196.89 157.98 L197.5 157.98 L198.11 157.98 L198.72 157.98 L199.32 157.98 L199.93 157.98 L200.54 157.98 L201.15 157.98 L201.75 157.98 L202.36 157.98 L202.97 157.98 L203.58 157.98 L204.18 157.98 L204.79 157.98 L205.4 157.98 L206.01 157.98 L206.61 157.98 L207.22 157.98 L207.83 157.98 L208.44 157.98 L209.04 157.98 L209.65 157.98 L210.26 157.98 L210.87 157.98" fill="none" stroke="#000" stroke-width="1.6" stroke-linejoin="round"/>
<path d="M142.56 120.98 H210.87 V157.98" fill="none" stroke="#555" stroke-width="0.9"/>
<path d="M142.56 120.98 V157.98" fill="none" stroke="#000" stroke-width="1.1"/>
<path d="M142.06 157.98 H210.87" fill="none" stroke="#000" stroke-width="1.6"/>
<path d="M142.56 150.58 h-1.2 M142.56 143.18 h-1.2 M142.56 135.78 h-1.2 M142.56 128.38 h-1.2 M142.56 157.98 v1.4 M147.7 157.98 v0.9 M150.71 157.98 v0.9 M152.84 157.98 v0.9 M154.49 157.98 v0.9 M155.85 157.98 v0.9 M156.99 157.98 v0.9 M157.98 157.98 v0.9 M158.85 157.98 v0.9 M159.63 157.98 v1.4 M164.78 157.98 v0.9 M167.78 157.98 v0.9 M169.92 157.98 v0.9 M171.57 157.98 v0.9 M172.92 157.98 v0.9 M174.07 157.98 v0.9 M175.06 157.98 v0.9 M175.93 157.98 v0.9 M176.71 157.98 v1.4 M181.85 157.98 v0.9 M184.86 157.98 v0.9 M186.99 157.98 v0.9 M188.65 157.98 v0.9 M190 157.98 v0.9 M191.14 157.98 v0.9 M192.13 157.98 v0.9 M193.01 157.98 v0.9 M193.79 157.98 v1.4 M198.93 157.98 v0.9 M201.94 157.98 v0.9 M204.07 157.98 v0.9 M205.72 157.98 v0.9 M207.08 157.98 v0.9 M208.22 157.98 v0.9 M209.21 157.98 v0.9 M210.08 157.98 v0.9 M210.87 157.98 v1.4" stroke="#444" stroke-width="0.5" fill="none"/>
<text x="139.06" y="121.38" font-size="4.2" font-weight="bold" text-anchor="middle" fill="#111" transform="rotate(-90 139.06 121.38)">200</text>
<text x="139.76" y="159.18" font-size="4.2" font-weight="bold" text-anchor="end" fill="#111">0</text>
<text x="134.16" y="140.98" font-size="4.0" font-weight="bold" text-anchor="middle" fill="#111" transform="rotate(-90 134.16 140.98)">Counts</text>
<text x="142.56" y="165.78" font-size="4.8" text-anchor="middle" fill="#111" font-weight="bold">10<tspan dy="-1.8" font-size="3.2">0</tspan></text>
<text x="159.63" y="165.78" font-size="4.8" text-anchor="middle" fill="#111" font-weight="bold">10<tspan dy="-1.8" font-size="3.2">1</tspan></text>
<text x="176.71" y="165.78" font-size="4.8" text-anchor="middle" fill="#111" font-weight="bold">10<tspan dy="-1.8" font-size="3.2">2</tspan></text>
<text x="193.79" y="165.78" font-size="4.8" text-anchor="middle" fill="#111" font-weight="bold">10<tspan dy="-1.8" font-size="3.2">3</tspan></text>
<text x="210.87" y="165.78" font-size="4.8" text-anchor="middle" fill="#111" font-weight="bold">10<tspan dy="-1.8" font-size="3.2">4</tspan></text>
<path d="M238.96 158.27 C239.2 157.08 239.79 153.53 240.38 151.15 C240.98 148.78 241.81 146.17 242.52 144.04 C243.23 141.9 244.06 138.7 244.65 138.35 C245.25 137.99 245.6 140.48 246.08 141.9 C246.55 143.33 247.03 145.22 247.5 146.88 C247.97 148.54 248.45 150.32 248.92 151.87 C249.4 153.41 249.87 155.07 250.35 156.13 C250.82 157.2 251.53 157.91 251.77 158.27 Z" fill="#c8c8c8" stroke="#666" stroke-width="0.8" stroke-dasharray="1 0.8"/>
<path d="M243.23 158.27 L243.94 156.72 L244.65 155.19 L245.37 154.07 L246.08 152.73 L246.79 150.93 L247.5 148.93 L248.21 147.51 L248.92 146.2 L249.63 144.63 L250.35 144.11 L251.06 143.36 L251.77 143.1 L252.48 143.56 L253.19 142.48 L253.9 142.62 L254.62 142.98 L255.33 143.45 L256.04 143.04 L256.75 143.1 L257.46 143.08 L258.17 143.23 L258.88 143.98 L259.6 145.2 L260.31 146.88 L261.02 148.68 L261.73 149.25 L262.44 150.69 L263.15 152.79 L263.87 153.92 L264.58 154.45 L265.29 155.51 L266 155.78 L266.71 156.79 L267.42 157.56 L268.13 157.74 L268.85 157.91 L269.56 158.09 L270.27 158.27" fill="none" stroke="#333" stroke-width="0.9"/>
<path d="M233.98 158.27 L234.6 158.26 L235.23 158.25 L235.85 158.23 L236.47 158.22 L237.09 158.21 L237.72 158.2 L238.34 158.19 L238.96 158.17 L239.58 158.16 L240.21 158.15 L240.83 158.14 L241.45 158.13 L242.07 158.12 L242.7 158.1 L243.32 158.09 L243.94 158.08 L244.56 158.07 L245.19 158.06 L245.81 158.04 L246.43 158.03 L247.06 158.02 L247.68 158.01 L248.3 158 L248.92 157.98 L249.53 157.82 L250.14 157.66 L250.75 157.5 L251.36 157.48 L251.97 157.3 L252.58 157.17 L253.19 157.09 L253.9 156.13 L254.62 155.42 L255.33 154.87 L256.04 154.74 L256.75 153.73 L257.46 152.83 L258.17 151.4 L258.88 149.42 L259.6 147.65 L260.31 145.41 L261.16 142.67 L262.02 139.26 L262.8 137.95 L263.58 135.21 L264.43 137.38 L265.29 138.51 L266 140.62 L266.71 142.92 L267.42 145.19 L268.13 147.75 L268.85 149.47 L269.56 150.49 L270.27 152.1 L270.98 153.79 L271.69 155.04 L272.4 156.05 L273.12 156.6 L273.83 157.4 L274.54 157.98 L275.14 157.99 L275.74 158 L276.34 158 L276.94 158.01 L277.54 158.02 L278.14 158.02 L278.74 158.03 L279.35 158.04 L279.95 158.04 L280.55 158.05 L281.15 158.05 L281.75 158.06 L282.35 158.07 L282.95 158.07 L283.55 158.08 L284.15 158.09 L284.75 158.09 L285.35 158.1 L285.95 158.1 L286.56 158.11 L287.16 158.12 L287.76 158.12 L288.36 158.13 L288.96 158.14 L289.56 158.14 L290.16 158.15 L290.76 158.16 L291.36 158.16 L291.96 158.17 L292.56 158.17 L293.16 158.18 L293.77 158.19 L294.37 158.19 L294.97 158.2 L295.57 158.21 L296.17 158.21 L296.77 158.22 L297.37 158.22 L297.97 158.23 L298.57 158.24 L299.17 158.24 L299.77 158.25 L300.38 158.26 L300.98 158.26 L301.58 158.27" fill="none" stroke="#000" stroke-width="1.6" stroke-linejoin="round"/>
<path d="M233.98 121.55 H301.58 V158.27" fill="none" stroke="#555" stroke-width="0.9"/>
<path d="M233.98 121.55 V158.27" fill="none" stroke="#000" stroke-width="1.1"/>
<path d="M233.48 158.27 H301.58" fill="none" stroke="#000" stroke-width="1.6"/>
<path d="M233.98 150.93 h-1.2 M233.98 143.58 h-1.2 M233.98 136.24 h-1.2 M233.98 128.9 h-1.2 M233.98 158.27 v1.4 M239.07 158.27 v0.9 M242.04 158.27 v0.9 M244.16 158.27 v0.9 M245.79 158.27 v0.9 M247.13 158.27 v0.9 M248.26 158.27 v0.9 M249.24 158.27 v0.9 M250.11 158.27 v0.9 M250.88 158.27 v1.4 M255.97 158.27 v0.9 M258.94 158.27 v0.9 M261.05 158.27 v0.9 M262.69 158.27 v0.9 M264.03 158.27 v0.9 M265.16 158.27 v0.9 M266.14 158.27 v0.9 M267.01 158.27 v0.9 M267.78 158.27 v1.4 M272.87 158.27 v0.9 M275.84 158.27 v0.9 M277.95 158.27 v0.9 M279.59 158.27 v0.9 M280.93 158.27 v0.9 M282.06 158.27 v0.9 M283.04 158.27 v0.9 M283.9 158.27 v0.9 M284.68 158.27 v1.4 M289.77 158.27 v0.9 M292.74 158.27 v0.9 M294.85 158.27 v0.9 M296.49 158.27 v0.9 M297.83 158.27 v0.9 M298.96 158.27 v0.9 M299.94 158.27 v0.9 M300.8 158.27 v0.9 M301.58 158.27 v1.4" stroke="#444" stroke-width="0.5" fill="none"/>
<text x="230.48" y="121.95" font-size="4.2" font-weight="bold" text-anchor="middle" fill="#111" transform="rotate(-90 230.48 121.95)">200</text>
<text x="231.18" y="159.47" font-size="4.2" font-weight="bold" text-anchor="end" fill="#111">0</text>
<text x="225.58" y="141.41" font-size="4.0" font-weight="bold" text-anchor="middle" fill="#111" transform="rotate(-90 225.58 141.41)">Counts</text>
<text x="233.98" y="166.07" font-size="4.8" text-anchor="middle" fill="#111" font-weight="bold">10<tspan dy="-1.8" font-size="3.2">0</tspan></text>
<text x="250.88" y="166.07" font-size="4.8" text-anchor="middle" fill="#111" font-weight="bold">10<tspan dy="-1.8" font-size="3.2">1</tspan></text>
<text x="267.78" y="166.07" font-size="4.8" text-anchor="middle" fill="#111" font-weight="bold">10<tspan dy="-1.8" font-size="3.2">2</tspan></text>
<text x="284.68" y="166.07" font-size="4.8" text-anchor="middle" fill="#111" font-weight="bold">10<tspan dy="-1.8" font-size="3.2">3</tspan></text>
<text x="301.58" y="166.07" font-size="4.8" text-anchor="middle" fill="#111" font-weight="bold">10<tspan dy="-1.8" font-size="3.2">4</tspan></text>
<path d="M57.83 209.56 C58.06 208.66 58.66 206.48 59.25 204.15 C59.84 201.83 60.67 198.7 61.38 195.62 C62.1 192.53 62.93 186.6 63.52 185.65 C64.11 184.71 64.47 188.03 64.94 189.92 C65.42 191.82 65.89 194.9 66.37 197.04 C66.84 199.17 67.31 201.07 67.79 202.73 C68.26 204.39 68.74 205.86 69.21 207 C69.69 208.14 70.4 209.13 70.63 209.56 Z" fill="#c8c8c8" stroke="#666" stroke-width="0.8" stroke-dasharray="1 0.8"/>
<path d="M61.38 209.56 L62.1 208.29 L62.81 207.24 L63.52 206.25 L64.14 205.32 L64.75 203.59 L65.37 202.4 L66.22 199.5 L67.08 196.77 L67.93 194.51 L68.78 192.95 L69.4 191.84 L70.02 190.58 L70.63 189.44 L71.63 191.06 L72.77 193.66 L73.48 195.54 L74.19 197.51 L74.9 200.05 L75.62 202.44 L76.33 203.52 L77.04 205.11 L77.75 206.71 L78.46 208.1 L79.17 208.67 L79.88 209.09 L80.6 209.56" fill="none" stroke="#333" stroke-width="0.9"/>
<path d="M53.56 209.56 L54.16 209.55 L54.77 209.54 L55.38 209.53 L55.98 209.52 L56.59 209.51 L57.19 209.5 L57.8 209.49 L58.41 209.48 L59.01 209.47 L59.62 209.46 L60.23 209.45 L60.83 209.44 L61.44 209.42 L62.04 209.41 L62.65 209.4 L63.26 209.39 L63.86 209.38 L64.47 209.37 L65.07 209.36 L65.68 209.35 L66.29 209.34 L66.89 209.33 L67.5 209.32 L68.1 209.31 L68.71 209.3 L69.32 209.29 L69.92 209.28 L70.63 208.78 L71.35 208.14 L72.06 207.98 L72.77 207.48 L73.48 206.79 L74.19 205.96 L74.9 206.31 L75.62 205.09 L76.33 205.17 L77.04 204.05 L77.75 203.56 L78.46 203.78 L79.17 202.88 L79.88 203.23 L80.6 201.54 L81.31 200.02 L82.02 198.87 L82.73 197.9 L83.44 196.98 L84.15 196.11 L84.87 193.45 L85.58 191.94 L86.72 189.61 L87.43 192.22 L88.14 193.09 L88.99 195.83 L89.85 198.69 L90.56 201.55 L91.27 204.59 L91.98 206.14 L92.69 207.48 L93.4 208.46 L94.12 209.13 L94.83 209.24 L95.54 209.35 L96.25 209.45 L96.96 209.56 L97.57 209.56 L98.17 209.56 L98.78 209.56 L99.38 209.56 L99.99 209.56 L100.59 209.56 L101.2 209.56 L101.8 209.56 L102.4 209.56 L103.01 209.56 L103.61 209.56 L104.22 209.56 L104.82 209.56 L105.43 209.56 L106.03 209.56 L106.64 209.56 L107.24 209.56 L107.85 209.56 L108.45 209.56 L109.06 209.56 L109.66 209.56 L110.27 209.56 L110.87 209.56 L111.48 209.56 L112.08 209.56 L112.69 209.56 L113.29 209.56 L113.9 209.56 L114.5 209.56 L115.11 209.56 L115.71 209.56 L116.32 209.56 L116.92 209.56 L117.52 209.56 L118.13 209.56 L118.73 209.56 L119.34 209.56 L119.94 209.56 L120.55 209.56 L121.15 209.56" fill="none" stroke="#000" stroke-width="1.6" stroke-linejoin="round"/>
<path d="M53.56 173.13 H121.15 V209.56" fill="none" stroke="#555" stroke-width="0.9"/>
<path d="M53.56 173.13 V209.56" fill="none" stroke="#000" stroke-width="1.1"/>
<path d="M53.06 209.56 H121.15" fill="none" stroke="#000" stroke-width="1.6"/>
<path d="M53.56 202.28 h-1.2 M53.56 194.99 h-1.2 M53.56 187.7 h-1.2 M53.56 180.42 h-1.2 M53.56 209.56 v1.4 M58.64 209.56 v0.9 M61.62 209.56 v0.9 M63.73 209.56 v0.9 M65.37 209.56 v0.9 M66.71 209.56 v0.9 M67.84 209.56 v0.9 M68.82 209.56 v0.9 M69.68 209.56 v0.9 M70.46 209.56 v1.4 M75.54 209.56 v0.9 M78.52 209.56 v0.9 M80.63 209.56 v0.9 M82.27 209.56 v0.9 M83.61 209.56 v0.9 M84.74 209.56 v0.9 M85.72 209.56 v0.9 M86.58 209.56 v0.9 M87.36 209.56 v1.4 M92.44 209.56 v0.9 M95.42 209.56 v0.9 M97.53 209.56 v0.9 M99.17 209.56 v0.9 M100.51 209.56 v0.9 M101.64 209.56 v0.9 M102.62 209.56 v0.9 M103.48 209.56 v0.9 M104.25 209.56 v1.4 M109.34 209.56 v0.9 M112.32 209.56 v0.9 M114.43 209.56 v0.9 M116.07 209.56 v0.9 M117.4 209.56 v0.9 M118.54 209.56 v0.9 M119.52 209.56 v0.9 M120.38 209.56 v0.9 M121.15 209.56 v1.4" stroke="#444" stroke-width="0.5" fill="none"/>
<text x="50.06" y="173.53" font-size="4.2" font-weight="bold" text-anchor="middle" fill="#111" transform="rotate(-90 50.06 173.53)">200</text>
<text x="50.76" y="210.76" font-size="4.2" font-weight="bold" text-anchor="end" fill="#111">0</text>
<text x="45.16" y="192.85" font-size="4.0" font-weight="bold" text-anchor="middle" fill="#111" transform="rotate(-90 45.16 192.85)">Counts</text>
<text x="53.56" y="217.36" font-size="4.8" text-anchor="middle" fill="#111" font-weight="bold">10<tspan dy="-1.8" font-size="3.2">0</tspan></text>
<text x="70.46" y="217.36" font-size="4.8" text-anchor="middle" fill="#111" font-weight="bold">10<tspan dy="-1.8" font-size="3.2">1</tspan></text>
<text x="87.36" y="217.36" font-size="4.8" text-anchor="middle" fill="#111" font-weight="bold">10<tspan dy="-1.8" font-size="3.2">2</tspan></text>
<text x="104.25" y="217.36" font-size="4.8" text-anchor="middle" fill="#111" font-weight="bold">10<tspan dy="-1.8" font-size="3.2">3</tspan></text>
<text x="121.15" y="217.36" font-size="4.8" text-anchor="middle" fill="#111" font-weight="bold">10<tspan dy="-1.8" font-size="3.2">4</tspan></text>
<path d="M148.25 209.56 C148.49 208.42 149.08 205.53 149.67 202.73 C150.27 199.93 151.21 195.73 151.81 192.77 C152.4 189.8 152.76 185.65 153.23 184.94 C153.71 184.23 154.18 186.72 154.65 188.5 C155.13 190.28 155.6 193.36 156.08 195.62 C156.55 197.87 157.03 200.12 157.5 202.02 C157.97 203.92 158.45 205.74 158.92 207 C159.4 208.26 160.11 209.13 160.35 209.56 Z" fill="#c8c8c8" stroke="#666" stroke-width="0.8" stroke-dasharray="1 0.8"/>
<path d="M151.1 209.56 L151.81 208.22 L152.52 206.26 L153.23 204.55 L153.94 203.17 L154.65 200.84 L155.37 197.99 L156.08 196.73 L156.79 194.55 L157.5 192.64 L158.21 191.65 L158.92 190.54 L159.63 189.43 L160.35 190.41 L161.06 191.2 L161.77 192.87 L162.48 193.1 L163.48 198.21 L164.62 202.44 L165.33 204.58 L166.04 207.02 L166.75 207.74 L167.46 208.3 L168.17 209.13 L168.88 209.28 L169.6 209.42 L170.31 209.56" fill="none" stroke="#333" stroke-width="0.9"/>
<path d="M143.27 209.56 L143.9 209.55 L144.53 209.53 L145.17 209.51 L145.8 209.5 L146.43 209.48 L147.06 209.47 L147.7 209.45 L148.33 209.44 L148.96 209.42 L149.59 209.4 L150.23 209.39 L150.86 209.37 L151.49 209.36 L152.12 209.34 L152.76 209.32 L153.39 209.31 L154.02 209.29 L154.65 209.28 L155.26 209.11 L155.87 208.95 L156.48 208.79 L157.09 208.47 L157.7 208.45 L158.31 208.24 L158.92 208.36 L159.63 207.57 L160.35 207.29 L161.06 207.4 L161.77 206.16 L162.48 206.19 L163.19 206.1 L163.9 205.51 L164.62 204.18 L165.33 203.64 L166.04 202.78 L166.75 202.84 L167.46 201.22 L168.17 200.87 L168.88 199.37 L169.6 197.1 L170.31 195.36 L171.02 193.27 L171.73 190.05 L172.44 188.24 L173.15 187.32 L173.87 187.59 L174.58 188.25 L175.72 181.55 L176.28 181.67 L177.14 187.54 L178.13 191.49 L178.85 195.39 L179.56 197.94 L180.27 200.66 L180.98 203.42 L181.69 205.72 L182.4 207.43 L183.12 207.63 L183.83 208.32 L184.54 209.13 L185.25 209.24 L185.96 209.35 L186.67 209.45 L187.38 209.56 L187.99 209.56 L188.59 209.56 L189.19 209.56 L189.79 209.56 L190.39 209.56 L191 209.56 L191.6 209.56 L192.2 209.56 L192.8 209.56 L193.41 209.56 L194.01 209.56 L194.61 209.56 L195.21 209.56 L195.81 209.56 L196.42 209.56 L197.02 209.56 L197.62 209.56 L198.22 209.56 L198.82 209.56 L199.43 209.56 L200.03 209.56 L200.63 209.56 L201.23 209.56 L201.83 209.56 L202.44 209.56 L203.04 209.56 L203.64 209.56 L204.24 209.56 L204.84 209.56 L205.45 209.56 L206.05 209.56 L206.65 209.56 L207.25 209.56 L207.86 209.56 L208.46 209.56 L209.06 209.56 L209.66 209.56 L210.26 209.56 L210.87 209.56" fill="none" stroke="#000" stroke-width="1.6" stroke-linejoin="round"/>
<path d="M143.27 173.13 H210.87 V209.56" fill="none" stroke="#555" stroke-width="0.9"/>
<path d="M143.27 173.13 V209.56" fill="none" stroke="#000" stroke-width="1.1"/>
<path d="M142.77 209.56 H210.87" fill="none" stroke="#000" stroke-width="1.6"/>
<path d="M143.27 202.28 h-1.2 M143.27 194.99 h-1.2 M143.27 187.7 h-1.2 M143.27 180.42 h-1.2 M143.27 209.56 v1.4 M148.36 209.56 v0.9 M151.33 209.56 v0.9 M153.44 209.56 v0.9 M155.08 209.56 v0.9 M156.42 209.56 v0.9 M157.55 209.56 v0.9 M158.53 209.56 v0.9 M159.4 209.56 v0.9 M160.17 209.56 v1.4 M165.26 209.56 v0.9 M168.23 209.56 v0.9 M170.34 209.56 v0.9 M171.98 209.56 v0.9 M173.32 209.56 v0.9 M174.45 209.56 v0.9 M175.43 209.56 v0.9 M176.29 209.56 v0.9 M177.07 209.56 v1.4 M182.15 209.56 v0.9 M185.13 209.56 v0.9 M187.24 209.56 v0.9 M188.88 209.56 v0.9 M190.22 209.56 v0.9 M191.35 209.56 v0.9 M192.33 209.56 v0.9 M193.19 209.56 v0.9 M193.97 209.56 v1.4 M199.05 209.56 v0.9 M202.03 209.56 v0.9 M204.14 209.56 v0.9 M205.78 209.56 v0.9 M207.12 209.56 v0.9 M208.25 209.56 v0.9 M209.23 209.56 v0.9 M210.09 209.56 v0.9 M210.87 209.56 v1.4" stroke="#444" stroke-width="0.5" fill="none"/>
<text x="139.77" y="173.53" font-size="4.2" font-weight="bold" text-anchor="middle" fill="#111" transform="rotate(-90 139.77 173.53)">200</text>
<text x="140.47" y="210.76" font-size="4.2" font-weight="bold" text-anchor="end" fill="#111">0</text>
<text x="134.87" y="192.85" font-size="4.0" font-weight="bold" text-anchor="middle" fill="#111" transform="rotate(-90 134.87 192.85)">Counts</text>
<text x="143.27" y="217.36" font-size="4.8" text-anchor="middle" fill="#111" font-weight="bold">10<tspan dy="-1.8" font-size="3.2">0</tspan></text>
<text x="160.17" y="217.36" font-size="4.8" text-anchor="middle" fill="#111" font-weight="bold">10<tspan dy="-1.8" font-size="3.2">1</tspan></text>
<text x="177.07" y="217.36" font-size="4.8" text-anchor="middle" fill="#111" font-weight="bold">10<tspan dy="-1.8" font-size="3.2">2</tspan></text>
<text x="193.97" y="217.36" font-size="4.8" text-anchor="middle" fill="#111" font-weight="bold">10<tspan dy="-1.8" font-size="3.2">3</tspan></text>
<text x="210.87" y="217.36" font-size="4.8" text-anchor="middle" fill="#111" font-weight="bold">10<tspan dy="-1.8" font-size="3.2">4</tspan></text>
<path d="M239.67 209.13 C240.03 207.83 241.1 204.04 241.81 201.31 C242.52 198.58 243.28 195.62 243.94 192.77 C244.61 189.92 245.25 184.94 245.79 184.23 C246.34 183.52 246.74 186.6 247.22 188.5 C247.69 190.4 248.16 193.36 248.64 195.62 C249.11 197.87 249.54 200.12 250.06 202.02 C250.58 203.92 251.25 205.81 251.77 207 C252.29 208.19 252.96 208.78 253.19 209.13 Z" fill="#c8c8c8" stroke="#666" stroke-width="0.8" stroke-dasharray="1 0.8"/>
<path d="M243.23 209.13 L244.08 206.95 L244.94 204.86 L245.56 203.4 L246.17 200.75 L246.79 199.48 L247.41 197.51 L248.02 195.7 L248.64 193.75 L249.49 191.81 L250.35 189.75 L251.2 188.89 L252.05 188.08 L252.77 189 L253.48 188.79 L254.62 192.47 L255.75 198 L256.89 202.48 L257.53 204.07 L258.17 205.85 L258.88 207.39 L259.6 208.42 L260.31 208.66 L261.02 208.9 L261.73 209.13" fill="none" stroke="#333" stroke-width="0.9"/>
<path d="M235.4 209.13 L236.03 209.12 L236.66 209.1 L237.29 209.08 L237.92 209.07 L238.54 209.05 L239.17 209.03 L239.8 209.02 L240.43 209 L241.05 208.98 L241.68 208.97 L242.31 208.95 L242.94 208.93 L243.57 208.92 L244.19 208.9 L244.82 208.88 L245.45 208.87 L246.08 208.85 L246.69 208.69 L247.3 208.52 L247.91 208.36 L248.52 208.14 L249.13 208.23 L249.74 208.05 L250.35 207.97 L251.06 207.13 L251.77 206.51 L252.48 206.03 L253.19 206 L253.9 205.81 L254.62 205.18 L255.33 204.6 L256.04 204.46 L256.75 204.34 L257.46 204.06 L258.17 203.5 L258.88 202.97 L259.6 202.13 L260.31 200.89 L261.02 200.97 L261.73 199.66 L262.44 199.25 L263.15 198.32 L263.87 198.01 L264.58 196.71 L265.29 196.05 L266.28 195.34 L267.42 196.66 L268.56 196.04 L269.27 197.12 L269.98 198.27 L270.7 200.13 L271.41 202.56 L272.26 203.81 L273.12 205.28 L273.83 206.74 L274.54 207.39 L275.25 208.32 L275.96 208.39 L276.67 208.64 L277.38 208.89 L278.1 209.13 L278.7 209.13 L279.3 209.13 L279.9 209.13 L280.5 209.13 L281.11 209.13 L281.71 209.13 L282.31 209.13 L282.91 209.13 L283.51 209.13 L284.12 209.13 L284.72 209.13 L285.32 209.13 L285.92 209.13 L286.53 209.13 L287.13 209.13 L287.73 209.13 L288.33 209.13 L288.93 209.13 L289.54 209.13 L290.14 209.13 L290.74 209.13 L291.34 209.13 L291.94 209.13 L292.55 209.13 L293.15 209.13 L293.75 209.13 L294.35 209.13 L294.95 209.13 L295.56 209.13 L296.16 209.13 L296.76 209.13 L297.36 209.13 L297.96 209.13 L298.57 209.13 L299.17 209.13 L299.77 209.13 L300.37 209.13 L300.97 209.13 L301.58 209.13" fill="none" stroke="#000" stroke-width="1.6" stroke-linejoin="round"/>
<path d="M235.4 172.85 H301.58 V209.13" fill="none" stroke="#555" stroke-width="0.9"/>
<path d="M235.4 172.85 V209.13" fill="none" stroke="#000" stroke-width="1.1"/>
<path d="M234.9 209.13 H301.58" fill="none" stroke="#000" stroke-width="1.6"/>
<path d="M235.4 201.88 h-1.2 M235.4 194.62 h-1.2 M235.4 187.36 h-1.2 M235.4 180.1 h-1.2 M235.4 209.13 v1.4 M240.38 209.13 v0.9 M243.3 209.13 v0.9 M245.36 209.13 v0.9 M246.97 209.13 v0.9 M248.28 209.13 v0.9 M249.38 209.13 v0.9 M250.34 209.13 v0.9 M251.19 209.13 v0.9 M251.95 209.13 v1.4 M256.93 209.13 v0.9 M259.84 209.13 v0.9 M261.91 209.13 v0.9 M263.51 209.13 v0.9 M264.82 209.13 v0.9 M265.93 209.13 v0.9 M266.89 209.13 v0.9 M267.73 209.13 v0.9 M268.49 209.13 v1.4 M273.47 209.13 v0.9 M276.38 209.13 v0.9 M278.45 209.13 v0.9 M280.05 209.13 v0.9 M281.36 209.13 v0.9 M282.47 209.13 v0.9 M283.43 209.13 v0.9 M284.28 209.13 v0.9 M285.03 209.13 v1.4 M290.01 209.13 v0.9 M292.93 209.13 v0.9 M294.99 209.13 v0.9 M296.6 209.13 v0.9 M297.91 209.13 v0.9 M299.01 209.13 v0.9 M299.97 209.13 v0.9 M300.82 209.13 v0.9 M301.58 209.13 v1.4" stroke="#444" stroke-width="0.5" fill="none"/>
<text x="231.9" y="173.25" font-size="4.2" font-weight="bold" text-anchor="middle" fill="#111" transform="rotate(-90 231.9 173.25)">200</text>
<text x="232.6" y="210.33" font-size="4.2" font-weight="bold" text-anchor="end" fill="#111">0</text>
<text x="227" y="192.49" font-size="4.0" font-weight="bold" text-anchor="middle" fill="#111" transform="rotate(-90 227 192.49)">Counts</text>
<text x="235.4" y="216.93" font-size="4.8" text-anchor="middle" fill="#111" font-weight="bold">10<tspan dy="-1.8" font-size="3.2">0</tspan></text>
<text x="251.95" y="216.93" font-size="4.8" text-anchor="middle" fill="#111" font-weight="bold">10<tspan dy="-1.8" font-size="3.2">1</tspan></text>
<text x="268.49" y="216.93" font-size="4.8" text-anchor="middle" fill="#111" font-weight="bold">10<tspan dy="-1.8" font-size="3.2">2</tspan></text>
<text x="285.03" y="216.93" font-size="4.8" text-anchor="middle" fill="#111" font-weight="bold">10<tspan dy="-1.8" font-size="3.2">3</tspan></text>
<text x="301.58" y="216.93" font-size="4.8" text-anchor="middle" fill="#111" font-weight="bold">10<tspan dy="-1.8" font-size="3.2">4</tspan></text>
<path d="M57.83 263.13 C57.95 262.37 58.3 260.05 58.54 258.58 C58.78 257.11 58.97 255.73 59.25 254.31 C59.53 252.88 59.84 251.22 60.25 250.04 C60.65 248.85 61.19 248.38 61.67 247.19 C62.14 246.01 62.67 243.16 63.09 242.92 C63.52 242.69 63.85 244.7 64.23 245.77 C64.61 246.84 64.94 248.26 65.37 249.33 C65.8 250.39 66.39 251.22 66.79 252.17 C67.2 253.12 67.46 253.95 67.79 255.02 C68.12 256.09 68.48 257.51 68.78 258.58 C69.09 259.64 69.33 260.66 69.64 261.42 C69.95 262.18 70.47 262.85 70.63 263.13 Z" fill="#c8c8c8" stroke="#666" stroke-width="0.8" stroke-dasharray="1 0.8"/>
<path d="M68.5 263.13 L69.21 261.41 L69.92 260.07 L70.63 258.9 L71.35 256.43 L72.06 254.01 L72.77 251.36 L73.48 249.83 L74.19 249.16 L74.9 248.73 L75.62 249.61 L76.33 249.32 L77.04 249.76 L77.75 249.34 L78.46 249.98 L79.17 249.7 L79.88 250.37 L80.6 251.74 L81.31 253.33 L82.02 253.91 L82.73 255.35 L83.44 256.33 L84.15 256.87 L84.87 257.56 L85.58 257.86 L86.29 258.46 L87 259.04 L87.71 259.64 L88.42 259.94 L89.13 259.74 L89.85 259.82 L90.56 260.12 L91.27 260.45 L91.98 259.99 L92.69 260.11 L93.4 259.85 L94.12 260.3 L94.83 259.91 L95.54 259.28 L96.25 259.51 L96.96 259.99 L97.67 260.33 L98.38 260.69 L99.1 260.54 L99.81 260.92 L100.52 261.67 L101.23 261.96 L101.94 262.42 L102.65 262.85 L103.37 262.92 L104.08 262.99 L104.79 263.06 L105.5 263.13" fill="none" stroke="#333" stroke-width="0.9"/>
<path d="M53.56 263.13 L54.18 263.12 L54.8 263.11 L55.43 263.1 L56.05 263.08 L56.67 263.07 L57.29 263.06 L57.92 263.05 L58.54 263.04 L59.16 263.02 L59.78 263.01 L60.41 263 L61.03 262.99 L61.65 262.98 L62.27 262.96 L62.9 262.95 L63.52 262.94 L64.14 262.93 L64.76 262.92 L65.39 262.91 L66.01 262.89 L66.63 262.88 L67.25 262.87 L67.88 262.86 L68.5 262.85 L69.21 262.67 L69.92 262.49 L70.63 262.25 L71.35 262.06 L72.06 262 L72.77 261.31 L73.48 261.12 L74.19 260.58 L74.9 260.27 L75.62 260.4 L76.33 260.19 L77.04 259.14 L77.75 258.24 L78.46 258.12 L79.17 256.83 L79.88 255.9 L80.6 256.17 L81.31 254.94 L82.02 255.02 L82.73 254.2 L83.44 255.44 L84.15 255.69 L84.87 256.07 L85.58 256.62 L86.29 257.92 L87 258.49 L87.71 259.26 L88.42 258.84 L89.13 259.6 L89.85 259.5 L90.56 259.83 L91.27 259.61 L91.98 259.19 L92.69 258.88 L93.4 258.76 L94.12 255.87 L94.83 254.3 L95.54 251.09 L96.25 247.71 L96.96 242.59 L97.67 238.24 L98.67 237.72 L99.81 241.31 L100.52 244.68 L101.23 248.12 L102.37 256.2 L103.08 258.1 L103.79 261.07 L104.65 261.84 L105.5 262.85 L106.21 262.99 L106.92 263.13 L107.54 263.13 L108.16 263.13 L108.78 263.13 L109.4 263.13 L110.02 263.13 L110.64 263.13 L111.25 263.13 L111.87 263.13 L112.49 263.13 L113.11 263.13 L113.73 263.13 L114.35 263.13 L114.97 263.13 L115.59 263.13 L116.2 263.13 L116.82 263.13 L117.44 263.13 L118.06 263.13 L118.68 263.13 L119.3 263.13 L119.92 263.13 L120.54 263.13 L121.15 263.13" fill="none" stroke="#000" stroke-width="1.6" stroke-linejoin="round"/>
<path d="M53.56 226.56 H121.15 V263.13" fill="none" stroke="#555" stroke-width="0.9"/>
<path d="M53.56 226.56 V263.13" fill="none" stroke="#000" stroke-width="1.1"/>
<path d="M53.06 263.13 H121.15" fill="none" stroke="#000" stroke-width="1.6"/>
<path d="M53.56 255.82 h-1.2 M53.56 248.5 h-1.2 M53.56 241.19 h-1.2 M53.56 233.87 h-1.2 M53.56 263.13 v1.4 M58.64 263.13 v0.9 M61.62 263.13 v0.9 M63.73 263.13 v0.9 M65.37 263.13 v0.9 M66.71 263.13 v0.9 M67.84 263.13 v0.9 M68.82 263.13 v0.9 M69.68 263.13 v0.9 M70.46 263.13 v1.4 M75.54 263.13 v0.9 M78.52 263.13 v0.9 M80.63 263.13 v0.9 M82.27 263.13 v0.9 M83.61 263.13 v0.9 M84.74 263.13 v0.9 M85.72 263.13 v0.9 M86.58 263.13 v0.9 M87.36 263.13 v1.4 M92.44 263.13 v0.9 M95.42 263.13 v0.9 M97.53 263.13 v0.9 M99.17 263.13 v0.9 M100.51 263.13 v0.9 M101.64 263.13 v0.9 M102.62 263.13 v0.9 M103.48 263.13 v0.9 M104.25 263.13 v1.4 M109.34 263.13 v0.9 M112.32 263.13 v0.9 M114.43 263.13 v0.9 M116.07 263.13 v0.9 M117.4 263.13 v0.9 M118.54 263.13 v0.9 M119.52 263.13 v0.9 M120.38 263.13 v0.9 M121.15 263.13 v1.4" stroke="#444" stroke-width="0.5" fill="none"/>
<text x="50.06" y="226.96" font-size="4.2" font-weight="bold" text-anchor="middle" fill="#111" transform="rotate(-90 50.06 226.96)">200</text>
<text x="50.76" y="264.33" font-size="4.2" font-weight="bold" text-anchor="end" fill="#111">0</text>
<text x="45.16" y="246.34" font-size="4.0" font-weight="bold" text-anchor="middle" fill="#111" transform="rotate(-90 45.16 246.34)">Counts</text>
<text x="53.56" y="270.93" font-size="4.8" text-anchor="middle" fill="#111" font-weight="bold">10<tspan dy="-1.8" font-size="3.2">0</tspan></text>
<text x="70.46" y="270.93" font-size="4.8" text-anchor="middle" fill="#111" font-weight="bold">10<tspan dy="-1.8" font-size="3.2">1</tspan></text>
<text x="87.36" y="270.93" font-size="4.8" text-anchor="middle" fill="#111" font-weight="bold">10<tspan dy="-1.8" font-size="3.2">2</tspan></text>
<text x="104.25" y="270.93" font-size="4.8" text-anchor="middle" fill="#111" font-weight="bold">10<tspan dy="-1.8" font-size="3.2">3</tspan></text>
<text x="121.15" y="270.93" font-size="4.8" text-anchor="middle" fill="#111" font-weight="bold">10<tspan dy="-1.8" font-size="3.2">4</tspan></text>
<path d="M147.54 262.85 C147.73 261.9 148.25 259.05 148.68 257.15 C149.1 255.26 149.58 253.12 150.1 251.46 C150.62 249.8 151.29 248.62 151.81 247.19 C152.33 245.77 152.8 243.75 153.23 242.92 C153.66 242.09 154.01 241.74 154.37 242.21 C154.72 242.69 154.96 244.35 155.37 245.77 C155.77 247.19 156.31 249.09 156.79 250.75 C157.26 252.41 157.74 254.14 158.21 255.73 C158.69 257.32 159.23 259.1 159.63 260.28 C160.04 261.47 160.46 262.42 160.63 262.85 Z" fill="#c8c8c8" stroke="#666" stroke-width="0.8" stroke-dasharray="1 0.8"/>
<path d="M158.92 262.85 L159.63 260.94 L160.35 258.24 L161.06 256.02 L161.77 252.61 L162.48 250.65 L163.19 248.96 L163.9 248.09 L164.62 246.59 L165.33 246.72 L166.04 247 L166.75 247.21 L167.46 247.22 L168.17 247.1 L168.88 248.15 L169.6 249.55 L170.31 250.79 L171.02 251 L171.73 252.59 L172.44 253.85 L173.15 254.2 L173.87 256.07 L174.58 256.2 L175.29 257.54 L176 258.34 L176.71 258.78 L177.42 258.81 L178.13 259.28 L178.85 259.8 L179.56 259.78 L180.27 260.15 L180.98 260.09 L181.69 260.23 L182.4 259.8 L183.12 260.25 L183.83 260.06 L184.54 259.75 L185.25 260.47 L185.96 260.7 L186.67 260.68 L187.38 260.75 L188.1 261.17 L188.81 261.24 L189.52 261.57 L190.23 261.97 L190.94 262.28 L191.65 262.56 L192.37 262.63 L193.08 262.7 L193.79 262.78 L194.5 262.85" fill="none" stroke="#333" stroke-width="0.9"/>
<path d="M143.27 262.85 L143.87 262.84 L144.47 262.82 L145.08 262.81 L145.68 262.8 L146.28 262.79 L146.88 262.78 L147.48 262.77 L148.09 262.76 L148.69 262.75 L149.29 262.74 L149.89 262.73 L150.49 262.71 L151.1 262.7 L151.7 262.69 L152.3 262.68 L152.9 262.67 L153.5 262.66 L154.11 262.65 L154.71 262.64 L155.31 262.63 L155.91 262.62 L156.51 262.61 L157.12 262.59 L157.72 262.58 L158.32 262.57 L158.92 262.56 L159.63 262.35 L160.35 262.13 L161.06 261.78 L161.77 261.68 L162.48 261.36 L163.19 260.68 L163.9 260.75 L164.62 259.89 L165.33 260.11 L166.04 259.74 L166.75 259.02 L167.46 258.09 L168.17 258.11 L168.88 257.49 L169.6 257.65 L170.31 256.66 L171.02 257.36 L171.73 257.41 L172.44 257.22 L173.15 257.41 L173.87 256.82 L174.58 258.25 L175.29 258.28 L176 259.36 L176.71 259.89 L177.42 259.65 L178.13 260.36 L178.85 260.57 L179.56 259.79 L180.27 260.14 L180.98 260.22 L181.69 259.25 L182.4 259.72 L183.12 257.62 L183.83 256.79 L184.54 253.56 L185.25 251.46 L185.96 248.37 L186.67 244.03 L187.38 241.24 L188.1 238.66 L188.81 240.23 L189.52 241.7 L190.23 245.42 L190.94 248.95 L191.65 253.01 L192.37 255.93 L193.08 258.66 L193.79 260.45 L194.5 261.76 L195.21 262.56 L195.92 262.7 L196.63 262.85 L197.26 262.85 L197.88 262.85 L198.5 262.85 L199.12 262.85 L199.75 262.85 L200.37 262.85 L200.99 262.85 L201.62 262.85 L202.24 262.85 L202.86 262.85 L203.48 262.85 L204.11 262.85 L204.73 262.85 L205.35 262.85 L205.97 262.85 L206.6 262.85 L207.22 262.85 L207.84 262.85 L208.46 262.85 L209.09 262.85 L209.71 262.85 L210.33 262.85 L210.95 262.85 L211.58 262.85" fill="none" stroke="#000" stroke-width="1.6" stroke-linejoin="round"/>
<path d="M143.27 226.98 H211.58 V262.85" fill="none" stroke="#555" stroke-width="0.9"/>
<path d="M143.27 226.98 V262.85" fill="none" stroke="#000" stroke-width="1.1"/>
<path d="M142.77 262.85 H211.58" fill="none" stroke="#000" stroke-width="1.6"/>
<path d="M143.27 255.67 h-1.2 M143.27 248.5 h-1.2 M143.27 241.33 h-1.2 M143.27 234.16 h-1.2 M143.27 262.85 v1.4 M148.41 262.85 v0.9 M151.42 262.85 v0.9 M153.55 262.85 v0.9 M155.21 262.85 v0.9 M156.56 262.85 v0.9 M157.7 262.85 v0.9 M158.69 262.85 v0.9 M159.56 262.85 v0.9 M160.35 262.85 v1.4 M165.49 262.85 v0.9 M168.49 262.85 v0.9 M170.63 262.85 v0.9 M172.28 262.85 v0.9 M173.63 262.85 v0.9 M174.78 262.85 v0.9 M175.77 262.85 v0.9 M176.64 262.85 v0.9 M177.42 262.85 v1.4 M182.56 262.85 v0.9 M185.57 262.85 v0.9 M187.7 262.85 v0.9 M189.36 262.85 v0.9 M190.71 262.85 v0.9 M191.85 262.85 v0.9 M192.85 262.85 v0.9 M193.72 262.85 v0.9 M194.5 262.85 v1.4 M199.64 262.85 v0.9 M202.65 262.85 v0.9 M204.78 262.85 v0.9 M206.44 262.85 v0.9 M207.79 262.85 v0.9 M208.93 262.85 v0.9 M209.92 262.85 v0.9 M210.8 262.85 v0.9 M211.58 262.85 v1.4" stroke="#444" stroke-width="0.5" fill="none"/>
<text x="139.77" y="227.38" font-size="4.2" font-weight="bold" text-anchor="middle" fill="#111" transform="rotate(-90 139.77 227.38)">200</text>
<text x="140.47" y="264.05" font-size="4.2" font-weight="bold" text-anchor="end" fill="#111">0</text>
<text x="134.87" y="246.42" font-size="4.0" font-weight="bold" text-anchor="middle" fill="#111" transform="rotate(-90 134.87 246.42)">Counts</text>
<text x="143.27" y="270.65" font-size="4.8" text-anchor="middle" fill="#111" font-weight="bold">10<tspan dy="-1.8" font-size="3.2">0</tspan></text>
<text x="160.35" y="270.65" font-size="4.8" text-anchor="middle" fill="#111" font-weight="bold">10<tspan dy="-1.8" font-size="3.2">1</tspan></text>
<text x="177.42" y="270.65" font-size="4.8" text-anchor="middle" fill="#111" font-weight="bold">10<tspan dy="-1.8" font-size="3.2">2</tspan></text>
<text x="194.5" y="270.65" font-size="4.8" text-anchor="middle" fill="#111" font-weight="bold">10<tspan dy="-1.8" font-size="3.2">3</tspan></text>
<text x="211.58" y="270.65" font-size="4.8" text-anchor="middle" fill="#111" font-weight="bold">10<tspan dy="-1.8" font-size="3.2">4</tspan></text>
<path d="M240.1 262.85 C240.27 262.13 240.76 260.24 241.1 258.58 C241.43 256.92 241.74 254.43 242.09 252.88 C242.45 251.34 242.8 250.39 243.23 249.33 C243.66 248.26 244.23 247.43 244.65 246.48 C245.08 245.53 245.44 243.63 245.79 243.63 C246.15 243.63 246.46 245.41 246.79 246.48 C247.12 247.55 247.43 248.85 247.78 250.04 C248.14 251.22 248.54 252.29 248.92 253.6 C249.3 254.9 249.71 256.56 250.06 257.87 C250.42 259.17 250.77 260.59 251.06 261.42 C251.34 262.25 251.65 262.61 251.77 262.85 Z" fill="#c8c8c8" stroke="#666" stroke-width="0.8" stroke-dasharray="1 0.8"/>
<path d="M250.35 262.85 L251.06 260.04 L251.77 257.9 L252.48 254.8 L253.19 251.32 L253.9 250.41 L254.62 248.67 L255.33 248.32 L256.04 248.24 L256.75 247.08 L257.46 248.35 L258.17 248.37 L258.88 248.51 L259.6 249.15 L260.31 248.85 L261.02 249.82 L261.73 250.47 L262.44 251.32 L263.15 252.79 L263.87 253.54 L264.58 254.22 L265.29 255.74 L266 255.99 L266.71 257.3 L267.42 257.26 L268.13 258.18 L268.85 259.06 L269.56 258.95 L270.27 259.31 L270.98 259.24 L271.69 259.22 L272.4 259.39 L273.12 259.67 L273.83 260.25 L274.54 260.23 L275.25 260.44 L275.96 260.87 L276.67 260.45 L277.38 260.78 L278.1 261.27 L278.81 261.2 L279.52 261.52 L280.23 261.95 L280.94 262.28 L281.65 262.56 L282.37 262.63 L283.08 262.7 L283.79 262.78 L284.5 262.85" fill="none" stroke="#333" stroke-width="0.9"/>
<path d="M234.98 262.85 L235.58 262.83 L236.19 262.82 L236.8 262.81 L237.4 262.8 L238.01 262.78 L238.62 262.77 L239.22 262.76 L239.83 262.75 L240.43 262.73 L241.04 262.72 L241.65 262.71 L242.25 262.7 L242.86 262.69 L243.47 262.67 L244.07 262.66 L244.68 262.65 L245.28 262.64 L245.89 262.62 L246.5 262.61 L247.1 262.6 L247.71 262.59 L248.32 262.57 L248.92 262.56 L249.63 262.33 L250.35 262.11 L251.06 261.74 L251.77 261.59 L252.48 261.28 L253.19 261.05 L253.9 260.64 L254.62 259.85 L255.33 259.85 L256.04 259.23 L256.75 258.39 L257.46 258.81 L258.17 257.58 L258.88 257.02 L259.6 256.5 L260.31 256.63 L261.02 256.42 L261.73 255.76 L262.44 254.77 L263.15 254.05 L263.87 254.13 L264.58 255.18 L265.29 255.56 L266 255.8 L266.71 256.6 L267.42 257.09 L268.13 258.35 L268.85 258.83 L269.56 258.68 L270.27 259.78 L270.98 259.21 L271.69 259.37 L272.4 258.85 L273.12 258.29 L273.83 257.02 L274.54 256.75 L275.25 253.77 L275.96 252.23 L276.67 249.1 L277.38 244.66 L278.1 240.81 L278.81 237.35 L279.52 240.08 L280.23 243.08 L280.94 246.47 L281.65 248.97 L282.37 251.96 L283.08 254.8 L283.79 257.37 L284.5 261.02 L285.21 261.76 L285.92 262.56 L286.63 262.7 L287.35 262.85 L287.97 262.85 L288.59 262.85 L289.21 262.85 L289.84 262.85 L290.46 262.85 L291.08 262.85 L291.7 262.85 L292.33 262.85 L292.95 262.85 L293.57 262.85 L294.19 262.85 L294.82 262.85 L295.44 262.85 L296.06 262.85 L296.69 262.85 L297.31 262.85 L297.93 262.85 L298.55 262.85 L299.18 262.85 L299.8 262.85 L300.42 262.85 L301.04 262.85 L301.67 262.85 L302.29 262.85" fill="none" stroke="#000" stroke-width="1.6" stroke-linejoin="round"/>
<path d="M234.98 226.13 H302.29 V262.85" fill="none" stroke="#555" stroke-width="0.9"/>
<path d="M234.98 226.13 V262.85" fill="none" stroke="#000" stroke-width="1.1"/>
<path d="M234.48 262.85 H302.29" fill="none" stroke="#000" stroke-width="1.6"/>
<path d="M234.98 255.5 h-1.2 M234.98 248.16 h-1.2 M234.98 240.82 h-1.2 M234.98 233.47 h-1.2 M234.98 262.85 v1.4 M240.04 262.85 v0.9 M243.01 262.85 v0.9 M245.11 262.85 v0.9 M246.74 262.85 v0.9 M248.07 262.85 v0.9 M249.2 262.85 v0.9 M250.17 262.85 v0.9 M251.03 262.85 v0.9 M251.8 262.85 v1.4 M256.87 262.85 v0.9 M259.83 262.85 v0.9 M261.94 262.85 v0.9 M263.57 262.85 v0.9 M264.9 262.85 v0.9 M266.03 262.85 v0.9 M267 262.85 v0.9 M267.86 262.85 v0.9 M268.63 262.85 v1.4 M273.7 262.85 v0.9 M276.66 262.85 v0.9 M278.76 262.85 v0.9 M280.39 262.85 v0.9 M281.73 262.85 v0.9 M282.85 262.85 v0.9 M283.83 262.85 v0.9 M284.69 262.85 v0.9 M285.46 262.85 v1.4 M290.53 262.85 v0.9 M293.49 262.85 v0.9 M295.59 262.85 v0.9 M297.22 262.85 v0.9 M298.56 262.85 v0.9 M299.68 262.85 v0.9 M300.66 262.85 v0.9 M301.52 262.85 v0.9 M302.29 262.85 v1.4" stroke="#444" stroke-width="0.5" fill="none"/>
<text x="231.48" y="226.53" font-size="4.2" font-weight="bold" text-anchor="middle" fill="#111" transform="rotate(-90 231.48 226.53)">200</text>
<text x="232.18" y="264.05" font-size="4.2" font-weight="bold" text-anchor="end" fill="#111">0</text>
<text x="226.58" y="245.99" font-size="4.0" font-weight="bold" text-anchor="middle" fill="#111" transform="rotate(-90 226.58 245.99)">Counts</text>
<text x="234.98" y="270.65" font-size="4.8" text-anchor="middle" fill="#111" font-weight="bold">10<tspan dy="-1.8" font-size="3.2">0</tspan></text>
<text x="251.8" y="270.65" font-size="4.8" text-anchor="middle" fill="#111" font-weight="bold">10<tspan dy="-1.8" font-size="3.2">1</tspan></text>
<text x="268.63" y="270.65" font-size="4.8" text-anchor="middle" fill="#111" font-weight="bold">10<tspan dy="-1.8" font-size="3.2">2</tspan></text>
<text x="285.46" y="270.65" font-size="4.8" text-anchor="middle" fill="#111" font-weight="bold">10<tspan dy="-1.8" font-size="3.2">3</tspan></text>
<text x="302.29" y="270.65" font-size="4.8" text-anchor="middle" fill="#111" font-weight="bold">10<tspan dy="-1.8" font-size="3.2">4</tspan></text>
<text x="-2" y="344.8" font-size="18" font-weight="bold" text-anchor="start" fill="#000" stroke="#000" stroke-width="0.22">B</text>
<path d="M62.5 341.3 V457.7 H166" fill="none" stroke="#b4b4b4" stroke-width="0.9"/>
<path d="M62.5 457.7 h-2.5 M62.5 438.3 h-2.5 M62.5 418.9 h-2.5 M62.5 399.5 h-2.5 M62.5 380.1 h-2.5 M62.5 360.7 h-2.5 M62.5 341.3 h-2.5 M96.3 457.7 v2.2 M130.6 457.7 v2.2 M164.8 457.7 v2.2" stroke="#b4b4b4" stroke-width="0.9" fill="none"/>
<text x="55.8" y="460.7" font-size="8.2" font-weight="bold" text-anchor="end" fill="#000" stroke="#000" stroke-width="0.22">0</text>
<text x="55.8" y="441.3" font-size="8.2" font-weight="bold" text-anchor="end" fill="#000" stroke="#000" stroke-width="0.22">20 000</text>
<text x="55.8" y="421.9" font-size="8.2" font-weight="bold" text-anchor="end" fill="#000" stroke="#000" stroke-width="0.22">40 000</text>
<text x="55.8" y="402.5" font-size="8.2" font-weight="bold" text-anchor="end" fill="#000" stroke="#000" stroke-width="0.22">60 000</text>
<text x="55.8" y="383.1" font-size="8.2" font-weight="bold" text-anchor="end" fill="#000" stroke="#000" stroke-width="0.22">80 000</text>
<text x="55.8" y="363.7" font-size="8.2" font-weight="bold" text-anchor="end" fill="#000" stroke="#000" stroke-width="0.22">100 000</text>
<text x="55.8" y="344.3" font-size="8.2" font-weight="bold" text-anchor="end" fill="#000" stroke="#000" stroke-width="0.22">120 000</text>
<text x="21.2" y="397.5" font-size="8.6" font-weight="bold" text-anchor="middle" fill="#000" transform="rotate(-90 21.2 397.5)" stroke="#000" stroke-width="0.22">T cell proliferation (cpm)</text>
<text x="89.5" y="469.9" font-size="8.3" font-weight="bold" text-anchor="middle" fill="#000" stroke="#000" stroke-width="0.22">1:5</text>
<text x="133" y="469.9" font-size="8.3" font-weight="bold" text-anchor="middle" fill="#000" stroke="#000" stroke-width="0.22">1:20</text>
<text x="168.4" y="469.9" font-size="8.3" font-weight="bold" text-anchor="middle" fill="#000" stroke="#000" stroke-width="0.22">1:80</text>
<text x="124.9" y="483.2" font-size="8.6" font-weight="bold" text-anchor="middle" fill="#000" stroke="#000" stroke-width="0.22">Stimulator-responder ratio</text>
<path d="M96.3 448.39 V450.33 M94 448.39 h4.6 M94 450.33 h4.6 M130.6 434.03 V439.85 M128.3 434.03 h4.6 M128.3 439.85 h4.6 M164.8 425.2 V436.84 M162.5 425.2 h4.6 M162.5 436.84 h4.6 M96.3 444.12 V447.03 M94 444.12 h4.6 M94 447.03 h4.6 M130.6 432.48 V436.36 M128.3 432.48 h4.6 M128.3 436.36 h4.6 M164.8 421.81 V430.15 M162.5 421.81 h4.6 M162.5 430.15 h4.6 M96.3 423.26 V428.12 M94 423.26 h4.6 M94 428.12 h4.6 M130.6 382.23 V400.28 M128.3 382.23 h4.6 M128.3 400.28 h4.6 M164.8 377.19 V386.89 M162.5 377.19 h4.6 M162.5 386.89 h4.6 M96.3 427.14 V431.02 M94 427.14 h4.6 M94 431.02 h4.6 M130.6 386.4 V398.04 M128.3 386.4 h4.6 M128.3 398.04 h4.6 M164.8 377.48 V392.03 M162.5 377.48 h4.6 M162.5 392.03 h4.6 M96.3 418.9 V424.72 M94 418.9 h4.6 M94 424.72 h4.6 M130.6 380.58 V394.36 M128.3 380.58 h4.6 M128.3 394.36 h4.6 M164.8 365.74 V379.32 M162.5 365.74 h4.6 M162.5 379.32 h4.6" stroke="#000" stroke-width="0.9" fill="none"/>
<path d="M96.3 449.36 L130.6 436.94 L164.8 431.02" stroke="#000" stroke-width="1.1" fill="none"/>
<path d="M96.3 445.57 L130.6 434.42 L164.8 425.98" stroke="#000" stroke-width="1.9" fill="none"/>
<path d="M96.3 425.69 L130.6 391.25 L164.8 382.04" stroke="#000" stroke-width="1.1" fill="none"/>
<path d="M96.3 429.08 L130.6 392.23 L164.8 384.76" stroke="#000" stroke-width="1.1" fill="none"/>
<path d="M96.3 421.81 L130.6 387.47 L164.8 372.53" stroke="#000" stroke-width="1.1" fill="none"/>
<path d="M96.3 423.09 l2.3 4.6 h-4.6 Z" fill="#fff" stroke="#000" stroke-width="1.1" stroke-linejoin="miter"/>
<path d="M130.6 388.65 l2.3 4.6 h-4.6 Z" fill="#fff" stroke="#000" stroke-width="1.1" stroke-linejoin="miter"/>
<path d="M164.8 379.44 l2.3 4.6 h-4.6 Z" fill="#fff" stroke="#000" stroke-width="1.1" stroke-linejoin="miter"/>
<path d="M96.3 426.08 l3 5.5 h-6 Z" fill="#000"/>
<path d="M130.6 389.23 l3 5.5 h-6 Z" fill="#000"/>
<path d="M164.8 381.76 l3 5.5 h-6 Z" fill="#000"/>
<circle cx="96.3" cy="421.81" r="1.1" fill="#000"/>
<circle cx="130.6" cy="387.47" r="1.1" fill="#000"/>
<circle cx="164.8" cy="372.53" r="1.1" fill="#000"/>
<circle cx="96.3" cy="449.36" r="1.9" fill="#fff" stroke="#000" stroke-width="1.25"/>
<circle cx="130.6" cy="436.94" r="1.9" fill="#fff" stroke="#000" stroke-width="1.25"/>
<circle cx="164.8" cy="431.02" r="1.9" fill="#fff" stroke="#000" stroke-width="1.25"/>
<circle cx="96.3" cy="445.57" r="2.5" fill="#000"/>
<circle cx="130.6" cy="434.42" r="2.5" fill="#000"/>
<circle cx="164.8" cy="425.98" r="2.5" fill="#000"/>
<path d="M187 340.9 H206.1" stroke="#000" stroke-width="1.25"/>
<circle cx="196.7" cy="340.9" r="1.9" fill="#fff" stroke="#000" stroke-width="1.25"/>
<text x="208.3" y="343.9" font-size="8.5" font-weight="bold" text-anchor="start" fill="#000" stroke="#000" stroke-width="0.22">untreated</text>
<path d="M187 354.1 H206.1" stroke="#000" stroke-width="2.0"/>
<circle cx="196.7" cy="354.1" r="2.5" fill="#000"/>
<text x="208.3" y="357.1" font-size="8.5" font-weight="bold" text-anchor="start" fill="#000" stroke="#000" stroke-width="0.22">His-CK treated</text>
<path d="M187 367.3 H206.1" stroke="#000" stroke-width="1.25"/>
<path d="M196.7 364.7 l2.3 4.6 h-4.6 Z" fill="#fff" stroke="#000" stroke-width="1.1" stroke-linejoin="miter"/>
<text x="208.3" y="370.3" font-size="8.5" font-weight="bold" text-anchor="start" fill="#000" stroke="#000" stroke-width="0.22">Hsp70L1 treated</text>
<path d="M187 380.5 H206.1" stroke="#000" stroke-width="1.25"/>
<path d="M196.7 377.5 l3 5.5 h-6 Z" fill="#000"/>
<text x="208.3" y="383.5" font-size="8.5" font-weight="bold" text-anchor="start" fill="#000" stroke="#000" stroke-width="0.22">Hsp70 treated</text>
<path d="M187 393.7 H193.6 M199.8 393.7 H206.1" stroke="#000" stroke-width="1.25"/>
<circle cx="196.7" cy="393.7" r="1.1" fill="#000"/>
<text x="208.3" y="396.7" font-size="8.5" font-weight="bold" text-anchor="start" fill="#000" stroke="#000" stroke-width="0.22">LPS treated</text>
<text x="326.1" y="13" font-size="18" font-weight="bold" text-anchor="start" fill="#000" stroke="#000" stroke-width="0.22">C</text>
<path d="M369.4 5.1 V118.3 H505" fill="none" stroke="#b4b4b4" stroke-width="0.9"/>
<path d="M369.4 118.3 h-2.2 M369.4 90 h-2.2 M369.4 61.7 h-2.2 M369.4 33.4 h-2.2 M369.4 5.1 h-2.2 M404.45 118.3 v2 M439.45 118.3 v2 M474.45 118.3 v2 M505 118.3 v2" stroke="#b4b4b4" stroke-width="0.9" fill="none"/>
<text x="364.2" y="120.3" font-size="7.3" font-weight="bold" text-anchor="end" fill="#000" stroke="#000" stroke-width="0.22">0</text>
<text x="364.2" y="92" font-size="7.3" font-weight="bold" text-anchor="end" fill="#000" stroke="#000" stroke-width="0.22">50</text>
<text x="364.2" y="63.7" font-size="7.3" font-weight="bold" text-anchor="end" fill="#000" stroke="#000" stroke-width="0.22">100</text>
<text x="364.2" y="35.4" font-size="7.3" font-weight="bold" text-anchor="end" fill="#000" stroke="#000" stroke-width="0.22">150</text>
<text x="364.2" y="7.1" font-size="7.3" font-weight="bold" text-anchor="end" fill="#000" stroke="#000" stroke-width="0.22">200</text>
<text x="333.9" y="57.4" font-size="7.5" font-weight="bold" text-anchor="middle" fill="#000" transform="rotate(-90 333.9 57.4)" stroke="#000" stroke-width="0.22">IL-12p70 (pg/mL)</text>
<rect x="374.9" y="30.57" width="8" height="87.73" fill="#000" stroke="#000" stroke-width="0.85"/>
<path d="M378.9 23.21 V37.93 M376.4 23.21 h5 M376.4 37.93 h5" stroke="#000" stroke-width="1" fill="none"/>
<rect x="382.9" y="34.53" width="8" height="83.77" fill="url(#stip)" stroke="#000" stroke-width="0.85"/>
<path d="M386.9 27.17 V41.89 M384.4 27.17 h5 M384.4 41.89 h5" stroke="#000" stroke-width="1" fill="none"/>
<rect x="390.9" y="116.04" width="8" height="2.26" fill="#fff" stroke="#000" stroke-width="0.85"/>
<path d="M394.9 115.47 V116.6 M392.4 115.47 h5 M392.4 116.6 h5" stroke="#000" stroke-width="1" fill="none"/>
<text x="386.9" y="132.2" font-size="7.4" font-weight="bold" text-anchor="middle" fill="#000" stroke="#000" stroke-width="0.22">Hsp70L1</text>
<rect x="410" y="92.26" width="8" height="26.04" fill="#000" stroke="#000" stroke-width="0.85"/>
<path d="M414 88.3 V96.23 M411.5 88.3 h5 M411.5 96.23 h5" stroke="#000" stroke-width="1" fill="none"/>
<rect x="418" y="95.66" width="8" height="22.64" fill="url(#stip)" stroke="#000" stroke-width="0.85"/>
<path d="M422 92.26 V99.06 M419.5 92.26 h5 M419.5 99.06 h5" stroke="#000" stroke-width="1" fill="none"/>
<rect x="426" y="113.77" width="8" height="4.53" fill="#fff" stroke="#000" stroke-width="0.85"/>
<path d="M430 113.21 V114.34 M427.5 113.21 h5 M427.5 114.34 h5" stroke="#000" stroke-width="1" fill="none"/>
<text x="422" y="132.2" font-size="7.4" font-weight="bold" text-anchor="middle" fill="#000" stroke="#000" stroke-width="0.22">Hsp70</text>
<rect x="445" y="19.82" width="8" height="98.48" fill="#000" stroke="#000" stroke-width="0.85"/>
<path d="M449 11.89 V27.74 M446.5 11.89 h5 M446.5 27.74 h5" stroke="#000" stroke-width="1" fill="none"/>
<rect x="453" y="109.24" width="8" height="9.06" fill="url(#stip)" stroke="#000" stroke-width="0.85"/>
<path d="M457 106.98 V111.51 M454.5 106.98 h5 M454.5 111.51 h5" stroke="#000" stroke-width="1" fill="none"/>
<rect x="461" y="15.29" width="8" height="103.01" fill="#fff" stroke="#000" stroke-width="0.85"/>
<path d="M465 8.5 V22.08 M462.5 8.5 h5 M462.5 22.08 h5" stroke="#000" stroke-width="1" fill="none"/>
<text x="457" y="132.2" font-size="7.4" font-weight="bold" text-anchor="middle" fill="#000" stroke="#000" stroke-width="0.22">LPS</text>
<rect x="480" y="114.9" width="8" height="3.4" fill="#000" stroke="#000" stroke-width="0.85"/>
<path d="M484 113.77 V116.04 M481.5 113.77 h5 M481.5 116.04 h5" stroke="#000" stroke-width="1" fill="none"/>
<rect x="488" y="114.9" width="8" height="3.4" fill="url(#stip)" stroke="#000" stroke-width="0.85"/>
<path d="M492 112.07 V117.73 M489.5 112.07 h5 M489.5 117.73 h5" stroke="#000" stroke-width="1" fill="none"/>
<rect x="496" y="115.47" width="8" height="2.83" fill="#fff" stroke="#000" stroke-width="0.85"/>
<path d="M500 114.9 V116.04 M497.5 114.9 h5 M497.5 116.04 h5" stroke="#000" stroke-width="1" fill="none"/>
<text x="492" y="132.2" font-size="7.4" font-weight="bold" text-anchor="middle" fill="#000" stroke="#000" stroke-width="0.22">His-CK</text>
<path d="M366.5 182 V290 H515" fill="none" stroke="#b4b4b4" stroke-width="0.9"/>
<path d="M366.5 290 h-2.2 M366.5 268.4 h-2.2 M366.5 246.8 h-2.2 M366.5 225.2 h-2.2 M366.5 203.6 h-2.2 M366.5 182 h-2.2 M403.88 290 v2 M441.88 290 v2 M479.38 290 v2 M515 290 v2" stroke="#b4b4b4" stroke-width="0.9" fill="none"/>
<text x="361.3" y="292" font-size="7.3" font-weight="bold" text-anchor="end" fill="#000" stroke="#000" stroke-width="0.22">0</text>
<text x="361.3" y="270.4" font-size="7.3" font-weight="bold" text-anchor="end" fill="#000" stroke="#000" stroke-width="0.22">2 000</text>
<text x="361.3" y="248.8" font-size="7.3" font-weight="bold" text-anchor="end" fill="#000" stroke="#000" stroke-width="0.22">4 000</text>
<text x="361.3" y="227.2" font-size="7.3" font-weight="bold" text-anchor="end" fill="#000" stroke="#000" stroke-width="0.22">6 000</text>
<text x="361.3" y="205.6" font-size="7.3" font-weight="bold" text-anchor="end" fill="#000" stroke="#000" stroke-width="0.22">8 000</text>
<text x="361.3" y="184" font-size="7.3" font-weight="bold" text-anchor="end" fill="#000" stroke="#000" stroke-width="0.22">10 000</text>
<text x="333.6" y="232.3" font-size="7.35" font-weight="bold" text-anchor="middle" fill="#000" transform="rotate(-90 333.6 232.3)" stroke="#000" stroke-width="0.22">TNF-α (pg/mL)</text>
<rect x="372.4" y="231.68" width="8.45" height="58.32" fill="#000" stroke="#000" stroke-width="0.85"/>
<path d="M376.62 226.28 V237.08 M374.12 226.28 h5 M374.12 237.08 h5" stroke="#000" stroke-width="1" fill="none"/>
<rect x="380.85" y="229.52" width="8.45" height="60.48" fill="url(#stip)" stroke="#000" stroke-width="0.85"/>
<path d="M385.07 223.04 V236 M382.57 223.04 h5 M382.57 236 h5" stroke="#000" stroke-width="1" fill="none"/>
<rect x="389.3" y="284.82" width="8.45" height="5.18" fill="#fff" stroke="#000" stroke-width="0.85"/>
<path d="M393.52 284.17 V285.46 M391.02 284.17 h5 M391.02 285.46 h5" stroke="#000" stroke-width="1" fill="none"/>
<text x="385.07" y="303.8" font-size="7.4" font-weight="bold" text-anchor="middle" fill="#000" stroke="#000" stroke-width="0.22">Hsp70L1</text>
<rect x="410" y="229.52" width="8.45" height="60.48" fill="#000" stroke="#000" stroke-width="0.85"/>
<path d="M414.23 225.2 V233.84 M411.73 225.2 h5 M411.73 233.84 h5" stroke="#000" stroke-width="1" fill="none"/>
<rect x="418.45" y="232.22" width="8.45" height="57.78" fill="url(#stip)" stroke="#000" stroke-width="0.85"/>
<path d="M422.68 226.82 V237.62 M420.18 226.82 h5 M420.18 237.62 h5" stroke="#000" stroke-width="1" fill="none"/>
<rect x="426.9" y="284.6" width="8.45" height="5.4" fill="#fff" stroke="#000" stroke-width="0.85"/>
<path d="M431.12 283.95 V285.25 M428.62 283.95 h5 M428.62 285.25 h5" stroke="#000" stroke-width="1" fill="none"/>
<text x="422.68" y="303.8" font-size="7.4" font-weight="bold" text-anchor="middle" fill="#000" stroke="#000" stroke-width="0.22">Hsp70</text>
<rect x="448" y="202.52" width="8.45" height="87.48" fill="#000" stroke="#000" stroke-width="0.85"/>
<path d="M452.23 193.88 V211.16 M449.73 193.88 h5 M449.73 211.16 h5" stroke="#000" stroke-width="1" fill="none"/>
<rect x="456.45" y="286.22" width="8.45" height="3.78" fill="url(#stip)" stroke="#000" stroke-width="0.85"/>
<path d="M460.68 285.68 V286.76 M458.18 285.68 h5 M458.18 286.76 h5" stroke="#000" stroke-width="1" fill="none"/>
<rect x="464.9" y="204.14" width="8.45" height="85.86" fill="#fff" stroke="#000" stroke-width="0.85"/>
<path d="M469.12 194.96 V213.32 M466.62 194.96 h5 M466.62 213.32 h5" stroke="#000" stroke-width="1" fill="none"/>
<text x="460.68" y="303.8" font-size="7.4" font-weight="bold" text-anchor="middle" fill="#000" stroke="#000" stroke-width="0.22">LPS</text>
<rect x="485.5" y="285.68" width="8.45" height="4.32" fill="#000" stroke="#000" stroke-width="0.85"/>
<path d="M489.73 285.14 V286.22 M487.23 285.14 h5 M487.23 286.22 h5" stroke="#000" stroke-width="1" fill="none"/>
<rect x="493.95" y="286.76" width="8.45" height="3.24" fill="url(#stip)" stroke="#000" stroke-width="0.85"/>
<path d="M498.18 286.33 V287.19 M495.68 286.33 h5 M495.68 287.19 h5" stroke="#000" stroke-width="1" fill="none"/>
<rect x="502.4" y="286.76" width="8.45" height="3.24" fill="#fff" stroke="#000" stroke-width="0.85"/>
<path d="M506.62 286.33 V287.19 M504.12 286.33 h5 M504.12 287.19 h5" stroke="#000" stroke-width="1" fill="none"/>
<text x="498.18" y="303.8" font-size="7.4" font-weight="bold" text-anchor="middle" fill="#000" stroke="#000" stroke-width="0.22">His-CK</text>
<path d="M363.3 350.1 V469.6 H516" fill="none" stroke="#b4b4b4" stroke-width="0.9"/>
<path d="M363.3 469.6 h-2.2 M363.3 445.7 h-2.2 M363.3 421.8 h-2.2 M363.3 397.9 h-2.2 M363.3 374 h-2.2 M363.3 350.1 h-2.2 M402.7 469.6 v2 M441.4 469.6 v2 M479.9 469.6 v2 M516 469.6 v2" stroke="#b4b4b4" stroke-width="0.9" fill="none"/>
<text x="358.1" y="471.6" font-size="7.3" font-weight="bold" text-anchor="end" fill="#000" stroke="#000" stroke-width="0.22">0</text>
<text x="358.1" y="447.7" font-size="7.3" font-weight="bold" text-anchor="end" fill="#000" stroke="#000" stroke-width="0.22">1 000</text>
<text x="358.1" y="423.8" font-size="7.3" font-weight="bold" text-anchor="end" fill="#000" stroke="#000" stroke-width="0.22">2 000</text>
<text x="358.1" y="399.9" font-size="7.3" font-weight="bold" text-anchor="end" fill="#000" stroke="#000" stroke-width="0.22">3 000</text>
<text x="358.1" y="376" font-size="7.3" font-weight="bold" text-anchor="end" fill="#000" stroke="#000" stroke-width="0.22">4 000</text>
<text x="358.1" y="352.1" font-size="7.3" font-weight="bold" text-anchor="end" fill="#000" stroke="#000" stroke-width="0.22">5 000</text>
<text x="333.3" y="408.9" font-size="7.45" font-weight="bold" text-anchor="middle" fill="#000" transform="rotate(-90 333.3 408.9)" stroke="#000" stroke-width="0.22">IL-1β (pg/mL)</text>
<rect x="370.2" y="382.37" width="8.8" height="87.24" fill="#000" stroke="#000" stroke-width="0.85"/>
<path d="M374.6 372.33 V392.4 M372.1 372.33 h5 M372.1 392.4 h5" stroke="#000" stroke-width="1" fill="none"/>
<rect x="379" y="384.28" width="8.8" height="85.32" fill="url(#stip)" stroke="#000" stroke-width="0.85"/>
<path d="M383.4 376.63 V391.93 M380.9 376.63 h5 M380.9 391.93 h5" stroke="#000" stroke-width="1" fill="none"/>
<rect x="387.8" y="464.1" width="8.8" height="5.5" fill="#fff" stroke="#000" stroke-width="0.85"/>
<path d="M392.2 463.39 V464.82 M389.7 463.39 h5 M389.7 464.82 h5" stroke="#000" stroke-width="1" fill="none"/>
<text x="383.4" y="484" font-size="7.4" font-weight="bold" text-anchor="middle" fill="#000" stroke="#000" stroke-width="0.22">Hsp70L1</text>
<rect x="408.8" y="380.45" width="8.8" height="89.15" fill="#000" stroke="#000" stroke-width="0.85"/>
<path d="M413.2 371.61 V389.3 M410.7 371.61 h5 M410.7 389.3 h5" stroke="#000" stroke-width="1" fill="none"/>
<rect x="417.6" y="383.56" width="8.8" height="86.04" fill="url(#stip)" stroke="#000" stroke-width="0.85"/>
<path d="M422 375.91 V391.21 M419.5 375.91 h5 M419.5 391.21 h5" stroke="#000" stroke-width="1" fill="none"/>
<rect x="426.4" y="463.15" width="8.8" height="6.45" fill="#fff" stroke="#000" stroke-width="0.85"/>
<path d="M430.8 462.43 V463.86 M428.3 462.43 h5 M428.3 463.86 h5" stroke="#000" stroke-width="1" fill="none"/>
<text x="422" y="484" font-size="7.4" font-weight="bold" text-anchor="middle" fill="#000" stroke="#000" stroke-width="0.22">Hsp70</text>
<rect x="447.5" y="375.91" width="8.8" height="93.69" fill="#000" stroke="#000" stroke-width="0.85"/>
<path d="M451.9 366.83 V384.99 M449.4 366.83 h5 M449.4 384.99 h5" stroke="#000" stroke-width="1" fill="none"/>
<rect x="456.3" y="458.61" width="8.8" height="10.99" fill="url(#stip)" stroke="#000" stroke-width="0.85"/>
<path d="M460.7 457.41 V459.8 M458.2 457.41 h5 M458.2 459.8 h5" stroke="#000" stroke-width="1" fill="none"/>
<rect x="465.1" y="378.78" width="8.8" height="90.82" fill="#fff" stroke="#000" stroke-width="0.85"/>
<path d="M469.5 366.35 V391.21 M467 366.35 h5 M467 391.21 h5" stroke="#000" stroke-width="1" fill="none"/>
<text x="460.7" y="484" font-size="7.4" font-weight="bold" text-anchor="middle" fill="#000" stroke="#000" stroke-width="0.22">LPS</text>
<rect x="486" y="466.02" width="8.8" height="3.58" fill="#000" stroke="#000" stroke-width="0.85"/>
<path d="M490.4 465.06 V466.97 M487.9 465.06 h5 M487.9 466.97 h5" stroke="#000" stroke-width="1" fill="none"/>
<rect x="494.8" y="460.04" width="8.8" height="9.56" fill="url(#stip)" stroke="#000" stroke-width="0.85"/>
<path d="M499.2 458.85 V461.24 M496.7 458.85 h5 M496.7 461.24 h5" stroke="#000" stroke-width="1" fill="none"/>
<rect x="503.6" y="461.24" width="8.8" height="8.37" fill="#fff" stroke="#000" stroke-width="0.85"/>
<path d="M508 460.28 V462.19 M505.5 460.28 h5 M505.5 462.19 h5" stroke="#000" stroke-width="1" fill="none"/>
<text x="499.2" y="484" font-size="7.4" font-weight="bold" text-anchor="middle" fill="#000" stroke="#000" stroke-width="0.22">His-CK</text>
</svg>
</body></html>
